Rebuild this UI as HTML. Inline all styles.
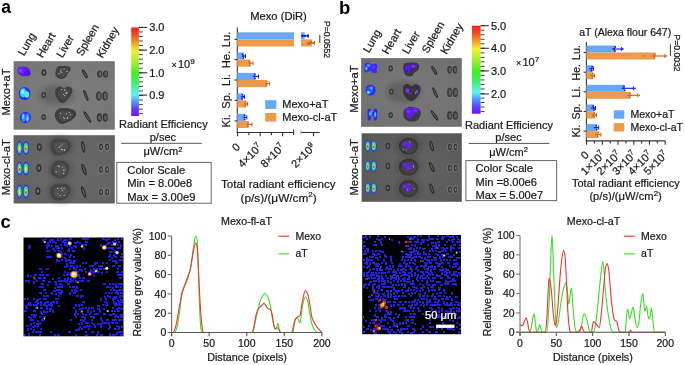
<!DOCTYPE html>
<html><head><meta charset="utf-8"><style>
html,body{margin:0;padding:0;background:#fff;}
svg{display:block;font-family:"Liberation Sans", sans-serif;filter:blur(0.35px);}
</style></head><body>
<svg width="685" height="365" viewBox="0 0 685 365">
<rect width="685" height="365" fill="#fff"/>
<text x="1.20" y="12.60" font-size="17.5" font-weight="bold" fill="#000">a</text>
<text x="339.00" y="13.80" font-size="18.5" font-weight="bold" fill="#000">b</text>
<text x="0.50" y="227.80" font-size="18.5" font-weight="bold" fill="#000">c</text>
<defs><filter id="blur2" x="-50%" y="-50%" width="200%" height="200%"><feGaussianBlur stdDeviation="2.5"/></filter><filter id="blur1" x="-50%" y="-50%" width="200%" height="200%"><feGaussianBlur stdDeviation="0.6"/></filter></defs>
<defs><radialGradient id="g4" cx="0.5" cy="0.5" r="0.75"><stop offset="0" stop-color="#7e7e7e"/><stop offset="1" stop-color="#747474"/></radialGradient></defs>
<rect x="13.60" y="61.20" width="101.20" height="68.50" fill="url(#g4)"/>
<ellipse cx="57.00" cy="95.00" rx="18.00" ry="10.00" fill="#303030" opacity="0.3" filter="url(#blur2)"/>
<ellipse cx="24.00" cy="71.50" rx="6.20" ry="4.80" fill="#5a18f4"/>
<ellipse cx="21.00" cy="70.00" rx="3.60" ry="3.40" fill="#6a28ff"/>
<ellipse cx="27.50" cy="73.20" rx="3.00" ry="2.80" fill="#4a10e8"/>
<ellipse cx="20.50" cy="70.50" rx="1.20" ry="1.00" fill="#8a70ff"/>
<ellipse cx="43.90" cy="72.60" rx="2.42" ry="3.30" fill="#303030"/>
<ellipse cx="43.90" cy="72.60" rx="1.21" ry="1.82" fill="#6e6e6e"/>
<path d="M56.00,70.00 C56.42,68.58 56.83,67.17 58.00,66.50 C59.17,65.83 61.67,66.12 63.00,66.00 C64.33,65.88 64.83,65.63 66.00,65.80 C67.17,65.97 69.25,66.30 70.00,67.00 C70.75,67.70 70.83,69.00 70.50,70.00 C70.17,71.00 68.75,71.83 68.00,73.00 C67.25,74.17 67.00,76.00 66.00,77.00 C65.00,78.00 63.33,78.83 62.00,79.00 C60.67,79.17 59.08,78.67 58.00,78.00 C56.92,77.33 55.83,76.33 55.50,75.00 C55.17,73.67 55.58,71.42 56.00,70.00 Z" fill="#3e3e3e"/>
<path d="M58.70,70.95 C58.99,70.03 59.28,69.11 60.10,68.68 C60.92,68.24 62.67,68.43 63.60,68.35 C64.53,68.27 64.88,68.11 65.70,68.22 C66.52,68.33 67.97,68.55 68.50,69.00 C69.03,69.46 69.08,70.30 68.85,70.95 C68.62,71.60 67.62,72.14 67.10,72.90 C66.57,73.66 66.40,74.85 65.70,75.50 C65.00,76.15 63.83,76.69 62.90,76.80 C61.97,76.91 60.86,76.58 60.10,76.15 C59.34,75.72 58.58,75.07 58.35,74.20 C58.12,73.33 58.41,71.87 58.70,70.95 Z" fill="#4a4a4a"/>
<ellipse cx="60.84" cy="71.84" rx="0.55" ry="0.55" fill="#cfcfcf"/>
<ellipse cx="61.93" cy="72.19" rx="0.55" ry="0.55" fill="#cfcfcf"/>
<ellipse cx="64.04" cy="68.99" rx="0.55" ry="0.55" fill="#cfcfcf"/>
<ellipse cx="58.98" cy="73.58" rx="0.55" ry="0.55" fill="#cfcfcf"/>
<ellipse cx="61.01" cy="69.99" rx="0.55" ry="0.55" fill="#cfcfcf"/>
<ellipse cx="67.09" cy="71.40" rx="0.55" ry="0.55" fill="#cfcfcf"/>
<ellipse cx="84.90" cy="73.90" rx="1.60" ry="5.00" fill="#2a2a2a" transform="rotate(-29 84.90 73.90)"/>
<ellipse cx="84.90" cy="73.90" rx="0.56" ry="3.50" fill="#626262" transform="rotate(-29 84.90 73.90)"/>
<ellipse cx="99.70" cy="74.00" rx="2.60" ry="3.60" fill="#353535"/>
<ellipse cx="100.00" cy="74.00" rx="1.43" ry="2.45" fill="#5e5e5e"/>
<ellipse cx="105.50" cy="74.00" rx="2.60" ry="3.60" fill="#353535"/>
<ellipse cx="105.80" cy="74.00" rx="1.43" ry="2.45" fill="#5e5e5e"/>
<ellipse cx="24.60" cy="93.50" rx="5.80" ry="6.60" fill="#2a2cff"/>
<ellipse cx="23.20" cy="92.80" rx="3.20" ry="4.60" fill="#30d0ff"/>
<ellipse cx="27.00" cy="94.50" rx="2.20" ry="3.20" fill="#50f0d0"/>
<ellipse cx="22.80" cy="91.80" rx="1.60" ry="2.40" fill="#80f8c0"/>
<ellipse cx="43.70" cy="95.10" rx="2.30" ry="2.86" fill="#303030"/>
<ellipse cx="43.70" cy="95.10" rx="1.15" ry="1.57" fill="#6e6e6e"/>
<path d="M55.50,90.00 C55.92,88.67 56.92,87.42 58.00,87.00 C59.08,86.58 61.00,87.17 62.00,87.50 C63.00,87.83 63.17,89.08 64.00,89.00 C64.83,88.92 65.83,87.25 67.00,87.00 C68.17,86.75 70.10,86.83 71.00,87.50 C71.90,88.17 72.57,89.58 72.40,91.00 C72.23,92.42 71.07,94.33 70.00,96.00 C68.93,97.67 67.33,99.83 66.00,101.00 C64.67,102.17 63.33,103.17 62.00,103.00 C60.67,102.83 59.08,101.33 58.00,100.00 C56.92,98.67 55.92,96.67 55.50,95.00 C55.08,93.33 55.08,91.33 55.50,90.00 Z" fill="#3e3e3e"/>
<path d="M58.48,91.39 C58.78,90.53 59.48,89.71 60.23,89.44 C60.99,89.17 62.34,89.55 63.04,89.77 C63.74,89.98 63.85,90.80 64.44,90.74 C65.02,90.69 65.72,89.60 66.53,89.44 C67.35,89.28 68.70,89.33 69.33,89.77 C69.96,90.20 70.43,91.12 70.31,92.04 C70.20,92.96 69.38,94.21 68.63,95.29 C67.89,96.38 66.77,97.78 65.83,98.54 C64.90,99.30 63.97,99.95 63.04,99.84 C62.10,99.73 60.99,98.76 60.23,97.89 C59.48,97.03 58.78,95.72 58.48,94.64 C58.19,93.56 58.19,92.26 58.48,91.39 Z" fill="#4a4a4a"/>
<ellipse cx="66.58" cy="92.66" rx="0.55" ry="0.55" fill="#cfcfcf"/>
<ellipse cx="64.74" cy="90.32" rx="0.55" ry="0.55" fill="#cfcfcf"/>
<ellipse cx="64.70" cy="95.48" rx="0.55" ry="0.55" fill="#cfcfcf"/>
<ellipse cx="63.67" cy="94.57" rx="0.55" ry="0.55" fill="#cfcfcf"/>
<ellipse cx="65.04" cy="89.69" rx="0.55" ry="0.55" fill="#cfcfcf"/>
<ellipse cx="65.85" cy="93.49" rx="0.55" ry="0.55" fill="#cfcfcf"/>
<ellipse cx="61.60" cy="89.46" rx="0.55" ry="0.55" fill="#cfcfcf"/>
<ellipse cx="66.85" cy="92.64" rx="0.55" ry="0.55" fill="#cfcfcf"/>
<ellipse cx="85.90" cy="95.50" rx="1.60" ry="5.80" fill="#2a2a2a" transform="rotate(-22 85.90 95.50)"/>
<ellipse cx="85.90" cy="95.50" rx="0.56" ry="4.06" fill="#626262" transform="rotate(-22 85.90 95.50)"/>
<ellipse cx="98.80" cy="96.00" rx="2.80" ry="4.60" fill="#353535"/>
<ellipse cx="99.10" cy="96.00" rx="1.54" ry="3.13" fill="#5e5e5e"/>
<ellipse cx="105.00" cy="96.00" rx="2.80" ry="4.60" fill="#353535"/>
<ellipse cx="105.30" cy="96.00" rx="1.54" ry="3.13" fill="#5e5e5e"/>
<ellipse cx="25.40" cy="117.50" rx="5.60" ry="5.80" fill="#2a2cff"/>
<ellipse cx="23.40" cy="117.50" rx="1.90" ry="4.30" fill="#3a90ff"/>
<ellipse cx="27.40" cy="117.80" rx="1.90" ry="4.30" fill="#3a90ff"/>
<ellipse cx="23.20" cy="116.50" rx="0.90" ry="2.60" fill="#60e0ff"/>
<ellipse cx="27.60" cy="118.50" rx="0.90" ry="2.20" fill="#60e0ff"/>
<ellipse cx="43.70" cy="117.10" rx="2.30" ry="2.86" fill="#303030"/>
<ellipse cx="43.70" cy="117.10" rx="1.15" ry="1.57" fill="#6e6e6e"/>
<path d="M55.50,112.00 C56.17,110.58 57.42,109.17 59.00,108.50 C60.58,107.83 63.00,107.92 65.00,108.00 C67.00,108.08 69.33,108.50 71.00,109.00 C72.67,109.50 74.17,110.00 75.00,111.00 C75.83,112.00 76.33,113.67 76.00,115.00 C75.67,116.33 74.50,117.75 73.00,119.00 C71.50,120.25 69.00,121.67 67.00,122.50 C65.00,123.33 62.67,124.25 61.00,124.00 C59.33,123.75 58.00,122.17 57.00,121.00 C56.00,119.83 55.25,118.50 55.00,117.00 C54.75,115.50 54.83,113.42 55.50,112.00 Z" fill="#3e3e3e"/>
<path d="M58.94,113.51 C59.40,112.59 60.28,111.67 61.39,111.24 C62.49,110.81 64.19,110.86 65.59,110.91 C66.99,110.97 68.62,111.24 69.79,111.56 C70.95,111.89 72.00,112.21 72.59,112.86 C73.17,113.51 73.52,114.60 73.29,115.46 C73.05,116.33 72.24,117.25 71.19,118.06 C70.14,118.88 68.39,119.80 66.99,120.34 C65.59,120.88 63.95,121.48 62.79,121.31 C61.62,121.15 60.69,120.12 59.99,119.36 C59.29,118.61 58.76,117.74 58.59,116.76 C58.41,115.79 58.47,114.43 58.94,113.51 Z" fill="#4a4a4a"/>
<ellipse cx="67.48" cy="117.91" rx="0.55" ry="0.55" fill="#cfcfcf"/>
<ellipse cx="67.43" cy="118.21" rx="0.55" ry="0.55" fill="#cfcfcf"/>
<ellipse cx="63.74" cy="117.35" rx="0.55" ry="0.55" fill="#cfcfcf"/>
<ellipse cx="64.31" cy="118.32" rx="0.55" ry="0.55" fill="#cfcfcf"/>
<ellipse cx="69.33" cy="112.28" rx="0.55" ry="0.55" fill="#cfcfcf"/>
<ellipse cx="60.75" cy="113.14" rx="0.55" ry="0.55" fill="#cfcfcf"/>
<ellipse cx="70.33" cy="114.72" rx="0.55" ry="0.55" fill="#cfcfcf"/>
<ellipse cx="66.42" cy="113.75" rx="0.55" ry="0.55" fill="#cfcfcf"/>
<ellipse cx="87.40" cy="117.00" rx="1.60" ry="6.80" fill="#2a2a2a" transform="rotate(-32 87.40 117.00)"/>
<ellipse cx="87.40" cy="117.00" rx="0.56" ry="4.76" fill="#626262" transform="rotate(-32 87.40 117.00)"/>
<ellipse cx="99.40" cy="117.50" rx="2.60" ry="4.20" fill="#353535"/>
<ellipse cx="99.70" cy="117.50" rx="1.43" ry="2.86" fill="#5e5e5e"/>
<ellipse cx="105.20" cy="117.50" rx="2.60" ry="4.20" fill="#353535"/>
<ellipse cx="105.50" cy="117.50" rx="1.43" ry="2.86" fill="#5e5e5e"/>
<defs><radialGradient id="g72" cx="0.5" cy="0.5" r="0.75"><stop offset="0" stop-color="#6a6a6a"/><stop offset="1" stop-color="#606060"/></radialGradient></defs>
<rect x="13.60" y="135.20" width="101.20" height="68.30" fill="url(#g72)"/>
<ellipse cx="19.50" cy="148.00" rx="2.80" ry="6.70" fill="#3a1cff"/>
<ellipse cx="19.50" cy="148.00" rx="2.24" ry="5.76" fill="#2090ff"/>
<ellipse cx="19.50" cy="148.00" rx="1.82" ry="4.82" fill="#30d8d0"/>
<ellipse cx="19.50" cy="148.00" rx="1.40" ry="3.89" fill="#50e040"/>
<ellipse cx="19.50" cy="148.50" rx="0.98" ry="2.68" fill="#d8e830"/>
<ellipse cx="25.90" cy="148.00" rx="3.10" ry="6.70" fill="#3a1cff"/>
<ellipse cx="25.90" cy="148.00" rx="2.48" ry="5.76" fill="#2090ff"/>
<ellipse cx="25.90" cy="148.00" rx="2.02" ry="4.82" fill="#30d8d0"/>
<ellipse cx="25.90" cy="148.00" rx="1.55" ry="3.89" fill="#50e040"/>
<ellipse cx="25.90" cy="148.50" rx="1.08" ry="2.68" fill="#d8e830"/>
<ellipse cx="25.90" cy="149.00" rx="0.78" ry="1.47" fill="#f02818"/>
<ellipse cx="39.40" cy="147.00" rx="2.53" ry="3.85" fill="#303030"/>
<ellipse cx="39.40" cy="147.00" rx="1.26" ry="2.12" fill="#6e6e6e"/>
<ellipse cx="60.40" cy="146.80" rx="13.00" ry="11.00" fill="#303030" opacity="0.3" filter="url(#blur2)"/>
<path d="M50.90,142.80 C51.40,140.88 52.82,139.97 54.40,139.30 C55.98,138.63 58.40,138.80 60.40,138.80 C62.40,138.80 64.77,138.63 66.40,139.30 C68.03,139.97 69.62,141.22 70.20,142.80 C70.78,144.38 70.53,147.13 69.90,148.80 C69.27,150.47 67.82,151.77 66.40,152.80 C64.98,153.83 63.23,154.67 61.40,155.00 C59.57,155.33 57.07,155.50 55.40,154.80 C53.73,154.10 52.15,152.80 51.40,150.80 C50.65,148.80 50.40,144.72 50.90,142.80 Z" fill="#444444"/>
<path d="M54.43,144.50 C54.78,143.26 55.78,142.66 56.88,142.23 C57.99,141.79 59.68,141.90 61.08,141.90 C62.48,141.90 64.14,141.79 65.28,142.23 C66.43,142.66 67.54,143.47 67.94,144.50 C68.35,145.53 68.18,147.32 67.73,148.40 C67.29,149.49 66.28,150.33 65.28,151.00 C64.29,151.67 63.07,152.22 61.78,152.43 C60.50,152.65 58.75,152.76 57.58,152.30 C56.42,151.85 55.31,151.00 54.78,149.70 C54.26,148.40 54.08,145.75 54.43,144.50 Z" fill="#505050"/>
<ellipse cx="60.76" cy="145.69" rx="0.55" ry="0.55" fill="#cfcfcf"/>
<ellipse cx="59.10" cy="147.14" rx="0.55" ry="0.55" fill="#cfcfcf"/>
<ellipse cx="61.57" cy="149.47" rx="0.55" ry="0.55" fill="#cfcfcf"/>
<ellipse cx="62.61" cy="149.65" rx="0.55" ry="0.55" fill="#cfcfcf"/>
<ellipse cx="64.46" cy="150.10" rx="0.55" ry="0.55" fill="#cfcfcf"/>
<ellipse cx="62.50" cy="144.06" rx="0.55" ry="0.55" fill="#cfcfcf"/>
<ellipse cx="64.51" cy="149.91" rx="0.55" ry="0.55" fill="#cfcfcf"/>
<ellipse cx="83.20" cy="146.80" rx="1.90" ry="6.00" fill="#2a2a2a" transform="rotate(-10 83.20 146.80)"/>
<ellipse cx="83.20" cy="146.80" rx="0.66" ry="4.20" fill="#626262" transform="rotate(-10 83.20 146.80)"/>
<ellipse cx="100.90" cy="146.80" rx="2.70" ry="4.20" fill="#8a8a8a"/>
<ellipse cx="100.90" cy="146.80" rx="2.11" ry="3.57" fill="#363636"/>
<ellipse cx="101.10" cy="146.80" rx="0.81" ry="1.89" fill="#7a7a7a"/>
<ellipse cx="107.10" cy="146.80" rx="2.70" ry="4.20" fill="#8a8a8a"/>
<ellipse cx="107.10" cy="146.80" rx="2.11" ry="3.57" fill="#363636"/>
<ellipse cx="107.30" cy="146.80" rx="0.81" ry="1.89" fill="#7a7a7a"/>
<ellipse cx="19.50" cy="168.50" rx="2.80" ry="6.70" fill="#3a1cff"/>
<ellipse cx="19.50" cy="168.50" rx="2.24" ry="5.76" fill="#2090ff"/>
<ellipse cx="19.50" cy="168.50" rx="1.82" ry="4.82" fill="#30d8d0"/>
<ellipse cx="19.50" cy="168.50" rx="1.40" ry="3.89" fill="#50e040"/>
<ellipse cx="19.50" cy="169.00" rx="0.98" ry="2.68" fill="#d8e830"/>
<ellipse cx="19.50" cy="169.50" rx="0.70" ry="1.47" fill="#f02818"/>
<ellipse cx="25.90" cy="168.50" rx="3.10" ry="6.70" fill="#3a1cff"/>
<ellipse cx="25.90" cy="168.50" rx="2.48" ry="5.76" fill="#2090ff"/>
<ellipse cx="25.90" cy="168.50" rx="2.02" ry="4.82" fill="#30d8d0"/>
<ellipse cx="25.90" cy="168.50" rx="1.55" ry="3.89" fill="#50e040"/>
<ellipse cx="25.90" cy="169.00" rx="1.08" ry="2.68" fill="#d8e830"/>
<ellipse cx="38.90" cy="168.10" rx="2.53" ry="3.85" fill="#303030"/>
<ellipse cx="38.90" cy="168.10" rx="1.26" ry="2.12" fill="#6e6e6e"/>
<ellipse cx="60.40" cy="169.50" rx="13.00" ry="11.00" fill="#303030" opacity="0.3" filter="url(#blur2)"/>
<path d="M51.40,166.50 C52.15,164.67 53.73,162.50 55.40,161.50 C57.07,160.50 59.57,160.33 61.40,160.50 C63.23,160.67 65.15,161.50 66.40,162.50 C67.65,163.50 68.57,164.83 68.90,166.50 C69.23,168.17 68.98,170.75 68.40,172.50 C67.82,174.25 66.90,176.00 65.40,177.00 C63.90,178.00 61.23,178.58 59.40,178.50 C57.57,178.42 55.82,177.50 54.40,176.50 C52.98,175.50 51.40,174.17 50.90,172.50 C50.40,170.83 50.65,168.33 51.40,166.50 Z" fill="#444444"/>
<path d="M54.64,167.93 C55.16,166.74 56.27,165.33 57.44,164.68 C58.61,164.03 60.36,163.92 61.64,164.03 C62.92,164.14 64.27,164.68 65.14,165.33 C66.02,165.98 66.66,166.85 66.89,167.93 C67.12,169.02 66.95,170.70 66.54,171.83 C66.13,172.97 65.49,174.11 64.44,174.76 C63.39,175.41 61.52,175.79 60.24,175.73 C58.96,175.68 57.73,175.08 56.74,174.43 C55.75,173.78 54.64,172.92 54.29,171.83 C53.94,170.75 54.12,169.12 54.64,167.93 Z" fill="#505050"/>
<ellipse cx="64.21" cy="170.01" rx="0.55" ry="0.55" fill="#cfcfcf"/>
<ellipse cx="62.32" cy="167.11" rx="0.55" ry="0.55" fill="#cfcfcf"/>
<ellipse cx="63.48" cy="170.05" rx="0.55" ry="0.55" fill="#cfcfcf"/>
<ellipse cx="58.07" cy="165.91" rx="0.55" ry="0.55" fill="#cfcfcf"/>
<ellipse cx="63.70" cy="173.42" rx="0.55" ry="0.55" fill="#cfcfcf"/>
<ellipse cx="56.13" cy="171.88" rx="0.55" ry="0.55" fill="#cfcfcf"/>
<ellipse cx="59.31" cy="166.62" rx="0.55" ry="0.55" fill="#cfcfcf"/>
<ellipse cx="84.00" cy="169.50" rx="1.90" ry="6.00" fill="#2a2a2a" transform="rotate(-20 84.00 169.50)"/>
<ellipse cx="84.00" cy="169.50" rx="0.66" ry="4.20" fill="#626262" transform="rotate(-20 84.00 169.50)"/>
<ellipse cx="100.90" cy="169.50" rx="2.70" ry="4.20" fill="#8a8a8a"/>
<ellipse cx="100.90" cy="169.50" rx="2.11" ry="3.57" fill="#363636"/>
<ellipse cx="101.10" cy="169.50" rx="0.81" ry="1.89" fill="#7a7a7a"/>
<ellipse cx="107.10" cy="169.50" rx="2.70" ry="4.20" fill="#8a8a8a"/>
<ellipse cx="107.10" cy="169.50" rx="2.11" ry="3.57" fill="#363636"/>
<ellipse cx="107.30" cy="169.50" rx="0.81" ry="1.89" fill="#7a7a7a"/>
<ellipse cx="19.50" cy="191.50" rx="2.80" ry="6.70" fill="#3a1cff"/>
<ellipse cx="19.50" cy="191.50" rx="2.24" ry="5.76" fill="#2090ff"/>
<ellipse cx="19.50" cy="191.50" rx="1.82" ry="4.82" fill="#30d8d0"/>
<ellipse cx="19.50" cy="191.50" rx="1.40" ry="3.89" fill="#50e040"/>
<ellipse cx="19.50" cy="192.00" rx="0.98" ry="2.68" fill="#d8e830"/>
<ellipse cx="25.90" cy="191.50" rx="3.10" ry="6.70" fill="#3a1cff"/>
<ellipse cx="25.90" cy="191.50" rx="2.48" ry="5.76" fill="#2090ff"/>
<ellipse cx="25.90" cy="191.50" rx="2.02" ry="4.82" fill="#30d8d0"/>
<ellipse cx="25.90" cy="191.50" rx="1.55" ry="3.89" fill="#50e040"/>
<ellipse cx="25.90" cy="192.00" rx="1.08" ry="2.68" fill="#d8e830"/>
<ellipse cx="25.90" cy="192.50" rx="0.78" ry="1.47" fill="#f02818"/>
<ellipse cx="37.90" cy="191.10" rx="2.53" ry="3.85" fill="#303030"/>
<ellipse cx="37.90" cy="191.10" rx="1.26" ry="2.12" fill="#6e6e6e"/>
<ellipse cx="60.40" cy="192.00" rx="13.00" ry="11.00" fill="#303030" opacity="0.3" filter="url(#blur2)"/>
<path d="M50.90,187.00 C51.73,185.50 53.48,184.58 55.40,184.00 C57.32,183.42 60.23,183.33 62.40,183.50 C64.57,183.67 67.07,183.92 68.40,185.00 C69.73,186.08 70.40,188.17 70.40,190.00 C70.40,191.83 69.57,194.42 68.40,196.00 C67.23,197.58 65.23,198.75 63.40,199.50 C61.57,200.25 59.23,200.75 57.40,200.50 C55.57,200.25 53.57,199.25 52.40,198.00 C51.23,196.75 50.65,194.83 50.40,193.00 C50.15,191.17 50.07,188.50 50.90,187.00 Z" fill="#444444"/>
<path d="M54.22,189.03 C54.80,188.05 56.02,187.46 57.37,187.08 C58.71,186.70 60.75,186.64 62.27,186.75 C63.78,186.86 65.53,187.02 66.47,187.73 C67.40,188.43 67.86,189.79 67.86,190.98 C67.86,192.17 67.28,193.85 66.47,194.88 C65.65,195.91 64.25,196.66 62.97,197.15 C61.68,197.64 60.05,197.97 58.77,197.80 C57.48,197.64 56.08,196.99 55.27,196.18 C54.45,195.37 54.04,194.12 53.87,192.93 C53.69,191.74 53.63,190.00 54.22,189.03 Z" fill="#505050"/>
<ellipse cx="57.68" cy="193.71" rx="0.55" ry="0.55" fill="#cfcfcf"/>
<ellipse cx="64.05" cy="188.16" rx="0.55" ry="0.55" fill="#cfcfcf"/>
<ellipse cx="61.21" cy="188.17" rx="0.55" ry="0.55" fill="#cfcfcf"/>
<ellipse cx="62.35" cy="190.36" rx="0.55" ry="0.55" fill="#cfcfcf"/>
<ellipse cx="64.14" cy="195.33" rx="0.55" ry="0.55" fill="#cfcfcf"/>
<ellipse cx="60.01" cy="195.46" rx="0.55" ry="0.55" fill="#cfcfcf"/>
<ellipse cx="57.86" cy="188.41" rx="0.55" ry="0.55" fill="#cfcfcf"/>
<ellipse cx="83.60" cy="192.00" rx="1.90" ry="6.00" fill="#2a2a2a" transform="rotate(-20 83.60 192.00)"/>
<ellipse cx="83.60" cy="192.00" rx="0.66" ry="4.20" fill="#626262" transform="rotate(-20 83.60 192.00)"/>
<ellipse cx="100.90" cy="192.00" rx="2.70" ry="4.20" fill="#8a8a8a"/>
<ellipse cx="100.90" cy="192.00" rx="2.11" ry="3.57" fill="#363636"/>
<ellipse cx="101.10" cy="192.00" rx="0.81" ry="1.89" fill="#7a7a7a"/>
<ellipse cx="107.10" cy="192.00" rx="2.70" ry="4.20" fill="#8a8a8a"/>
<ellipse cx="107.10" cy="192.00" rx="2.11" ry="3.57" fill="#363636"/>
<ellipse cx="107.30" cy="192.00" rx="0.81" ry="1.89" fill="#7a7a7a"/>
<defs><radialGradient id="g167" cx="0.5" cy="0.5" r="0.75"><stop offset="0" stop-color="#7a7a7a"/><stop offset="1" stop-color="#6e6e6e"/></radialGradient></defs>
<rect x="361.10" y="58.10" width="100.70" height="68.70" fill="url(#g167)"/>
<ellipse cx="404.00" cy="92.00" rx="18.00" ry="11.00" fill="#303030" opacity="0.3" filter="url(#blur2)"/>
<path d="M364.50,63.50 C365.17,62.80 367.75,62.63 369.00,62.80 C370.25,62.97 370.92,64.38 372.00,64.50 C373.08,64.62 374.58,63.25 375.50,63.50 C376.42,63.75 377.33,64.92 377.50,66.00 C377.67,67.08 376.58,68.92 376.50,70.00 C376.42,71.08 377.58,72.03 377.00,72.50 C376.42,72.97 374.17,73.05 373.00,72.80 C371.83,72.55 371.17,71.05 370.00,71.00 C368.83,70.95 367.00,72.67 366.00,72.50 C365.00,72.33 364.17,70.92 364.00,70.00 C363.83,69.08 364.92,68.08 365.00,67.00 C365.08,65.92 363.83,64.20 364.50,63.50 Z" fill="#3a2aff"/>
<ellipse cx="368.50" cy="65.50" rx="2.00" ry="1.80" fill="#4a80ff"/>
<ellipse cx="366.40" cy="68.50" rx="1.20" ry="1.60" fill="#50e040"/>
<ellipse cx="373.50" cy="67.50" rx="1.80" ry="2.00" fill="#5a3aff"/>
<ellipse cx="390.70" cy="68.50" rx="2.18" ry="2.97" fill="#303030"/>
<ellipse cx="390.70" cy="68.50" rx="1.09" ry="1.63" fill="#6e6e6e"/>
<path d="M404.00,64.00 C405.08,62.75 408.00,62.70 410.00,62.50 C412.00,62.30 414.50,62.30 416.00,62.80 C417.50,63.30 418.67,64.30 419.00,65.50 C419.33,66.70 418.83,68.75 418.00,70.00 C417.17,71.25 415.00,72.00 414.00,73.00 C413.00,74.00 413.33,75.58 412.00,76.00 C410.67,76.42 407.42,76.50 406.00,75.50 C404.58,74.50 403.83,71.92 403.50,70.00 C403.17,68.08 402.92,65.25 404.00,64.00 Z" fill="#3a3a3a"/>
<path d="M405.50,66.00 C406.30,65.30 408.33,65.00 410.00,64.80 C411.67,64.60 414.33,64.52 415.50,64.80 C416.67,65.08 417.17,65.93 417.00,66.50 C416.83,67.07 415.50,67.87 414.50,68.20 C413.50,68.53 411.78,67.95 411.00,68.50 C410.22,69.05 410.33,70.67 409.80,71.50 C409.27,72.33 408.43,73.42 407.80,73.50 C407.17,73.58 406.43,72.75 406.00,72.00 C405.57,71.25 405.28,70.00 405.20,69.00 C405.12,68.00 404.70,66.70 405.50,66.00 Z" fill="#5a18f8"/>
<ellipse cx="413.50" cy="66.40" rx="1.80" ry="1.00" fill="#7a40ff"/>
<ellipse cx="407.20" cy="70.50" rx="0.80" ry="1.20" fill="#4010e0"/>
<ellipse cx="434.20" cy="70.40" rx="1.60" ry="5.00" fill="#2a2a2a" transform="rotate(-30 434.20 70.40)"/>
<ellipse cx="434.20" cy="70.40" rx="0.56" ry="3.50" fill="#626262" transform="rotate(-30 434.20 70.40)"/>
<ellipse cx="449.60" cy="69.80" rx="2.30" ry="3.70" fill="#353535"/>
<ellipse cx="449.90" cy="69.80" rx="1.26" ry="2.52" fill="#5e5e5e"/>
<ellipse cx="455.00" cy="69.80" rx="2.30" ry="3.70" fill="#353535"/>
<ellipse cx="455.30" cy="69.80" rx="1.26" ry="2.52" fill="#5e5e5e"/>
<ellipse cx="370.60" cy="90.10" rx="5.00" ry="5.40" fill="#2a28ff"/>
<ellipse cx="370.20" cy="90.00" rx="3.20" ry="3.80" fill="#2060ff"/>
<ellipse cx="368.40" cy="92.50" rx="1.50" ry="1.40" fill="#60e0ff"/>
<ellipse cx="371.50" cy="88.00" rx="1.40" ry="1.50" fill="#50b0ff"/>
<ellipse cx="391.30" cy="91.50" rx="2.18" ry="2.86" fill="#303030"/>
<ellipse cx="391.30" cy="91.50" rx="1.09" ry="1.57" fill="#6e6e6e"/>
<path d="M403.50,86.00 C404.25,84.33 406.67,83.92 408.00,84.00 C409.33,84.08 410.33,86.50 411.50,86.50 C412.67,86.50 413.67,84.08 415.00,84.00 C416.33,83.92 418.58,84.83 419.50,86.00 C420.42,87.17 420.92,89.17 420.50,91.00 C420.08,92.83 418.42,95.33 417.00,97.00 C415.58,98.67 413.67,100.67 412.00,101.00 C410.33,101.33 408.42,100.17 407.00,99.00 C405.58,97.83 404.08,96.17 403.50,94.00 C402.92,91.83 402.75,87.67 403.50,86.00 Z" fill="#353535"/>
<ellipse cx="407.50" cy="90.50" rx="2.00" ry="2.20" fill="#7030ff"/>
<ellipse cx="417.00" cy="91.50" rx="1.40" ry="1.80" fill="#8040ff"/>
<ellipse cx="409.50" cy="93.50" rx="1.00" ry="1.00" fill="#7020ff"/>
<ellipse cx="415.50" cy="93.00" rx="0.60" ry="0.60" fill="#e0e0e0"/>
<ellipse cx="435.10" cy="92.60" rx="1.60" ry="5.80" fill="#2a2a2a" transform="rotate(-25 435.10 92.60)"/>
<ellipse cx="435.10" cy="92.60" rx="0.56" ry="4.06" fill="#626262" transform="rotate(-25 435.10 92.60)"/>
<ellipse cx="449.70" cy="92.40" rx="2.50" ry="4.60" fill="#353535"/>
<ellipse cx="450.00" cy="92.40" rx="1.38" ry="3.13" fill="#5e5e5e"/>
<ellipse cx="455.30" cy="92.40" rx="2.50" ry="4.60" fill="#353535"/>
<ellipse cx="455.60" cy="92.40" rx="1.38" ry="3.13" fill="#5e5e5e"/>
<path d="M367.80,109.50 C368.30,108.50 369.97,108.58 370.50,109.00 C371.03,109.42 370.50,111.50 371.00,112.00 C371.50,112.50 373.00,112.50 373.50,112.00 C374.00,111.50 373.42,109.42 374.00,109.00 C374.58,108.58 376.47,108.50 377.00,109.50 C377.53,110.50 377.28,113.25 377.20,115.00 C377.12,116.75 377.03,119.12 376.50,120.00 C375.97,120.88 374.50,120.97 374.00,120.30 C373.50,119.63 374.00,116.72 373.50,116.00 C373.00,115.28 371.50,115.33 371.00,116.00 C370.50,116.67 371.00,119.33 370.50,120.00 C370.00,120.67 368.50,120.83 368.00,120.00 C367.50,119.17 367.53,116.75 367.50,115.00 C367.47,113.25 367.30,110.50 367.80,109.50 Z" fill="#2a28ff"/>
<ellipse cx="370.50" cy="113.50" rx="1.60" ry="2.20" fill="#40b0ff"/>
<ellipse cx="375.20" cy="114.50" rx="1.00" ry="2.50" fill="#50c8ff"/>
<ellipse cx="390.70" cy="115.10" rx="2.18" ry="2.86" fill="#303030"/>
<ellipse cx="390.70" cy="115.10" rx="1.09" ry="1.57" fill="#6e6e6e"/>
<path d="M404.00,110.00 C404.92,108.67 407.17,107.42 409.00,107.00 C410.83,106.58 413.17,107.00 415.00,107.50 C416.83,108.00 419.08,108.75 420.00,110.00 C420.92,111.25 421.00,113.25 420.50,115.00 C420.00,116.75 418.75,119.42 417.00,120.50 C415.25,121.58 412.00,121.75 410.00,121.50 C408.00,121.25 406.08,120.08 405.00,119.00 C403.92,117.92 403.67,116.50 403.50,115.00 C403.33,113.50 403.08,111.33 404.00,110.00 Z" fill="#3a3a3a"/>
<path d="M405.50,109.00 C406.17,107.97 408.42,107.97 410.00,107.80 C411.58,107.63 413.58,107.63 415.00,108.00 C416.42,108.37 418.00,109.25 418.50,110.00 C419.00,110.75 418.50,111.92 418.00,112.50 C417.50,113.08 416.42,112.92 415.50,113.50 C414.58,114.08 413.42,115.12 412.50,116.00 C411.58,116.88 410.92,118.55 410.00,118.80 C409.08,119.05 407.67,118.30 407.00,117.50 C406.33,116.70 406.25,115.42 406.00,114.00 C405.75,112.58 404.83,110.03 405.50,109.00 Z" fill="#6418f8"/>
<ellipse cx="408.50" cy="111.50" rx="2.20" ry="1.80" fill="#7a30ff"/>
<ellipse cx="415.50" cy="110.20" rx="1.80" ry="1.20" fill="#7a30ff"/>
<ellipse cx="413.00" cy="112.00" rx="0.90" ry="0.90" fill="#4a4a4a"/>
<ellipse cx="409.00" cy="115.00" rx="0.80" ry="0.80" fill="#505050"/>
<ellipse cx="434.50" cy="115.50" rx="1.60" ry="6.20" fill="#2a2a2a" transform="rotate(-35 434.50 115.50)"/>
<ellipse cx="434.50" cy="115.50" rx="0.56" ry="4.34" fill="#626262" transform="rotate(-35 434.50 115.50)"/>
<ellipse cx="449.70" cy="115.50" rx="2.50" ry="4.20" fill="#353535"/>
<ellipse cx="450.00" cy="115.50" rx="1.38" ry="2.86" fill="#5e5e5e"/>
<ellipse cx="455.30" cy="115.50" rx="2.50" ry="4.20" fill="#353535"/>
<ellipse cx="455.60" cy="115.50" rx="1.38" ry="2.86" fill="#5e5e5e"/>
<defs><radialGradient id="g220" cx="0.5" cy="0.5" r="0.75"><stop offset="0" stop-color="#636363"/><stop offset="1" stop-color="#575757"/></radialGradient></defs>
<rect x="361.60" y="133.30" width="100.20" height="68.50" fill="url(#g220)"/>
<ellipse cx="367.70" cy="146.00" rx="2.60" ry="5.60" fill="#3a1cff"/>
<ellipse cx="367.70" cy="146.00" rx="2.08" ry="4.82" fill="#2090ff"/>
<ellipse cx="367.70" cy="146.00" rx="1.69" ry="4.03" fill="#30d8d0"/>
<ellipse cx="367.70" cy="146.00" rx="1.30" ry="3.25" fill="#50e040"/>
<ellipse cx="367.70" cy="146.25" rx="0.91" ry="2.24" fill="#d8e830"/>
<ellipse cx="367.70" cy="146.50" rx="0.65" ry="1.23" fill="#f02818"/>
<ellipse cx="373.80" cy="146.00" rx="2.90" ry="5.60" fill="#3a1cff"/>
<ellipse cx="373.80" cy="146.00" rx="2.32" ry="4.82" fill="#2090ff"/>
<ellipse cx="373.80" cy="146.00" rx="1.89" ry="4.03" fill="#30d8d0"/>
<ellipse cx="373.80" cy="146.00" rx="1.45" ry="3.25" fill="#50e040"/>
<ellipse cx="373.80" cy="146.40" rx="1.01" ry="2.24" fill="#d8e830"/>
<ellipse cx="373.80" cy="146.80" rx="0.72" ry="1.23" fill="#f02818"/>
<ellipse cx="387.80" cy="146.00" rx="2.18" ry="3.30" fill="#303030"/>
<ellipse cx="387.80" cy="146.00" rx="1.09" ry="1.82" fill="#6e6e6e"/>
<ellipse cx="408.50" cy="146.00" rx="13.00" ry="11.00" fill="#303030" opacity="0.3" filter="url(#blur2)"/>
<ellipse cx="408.50" cy="146.00" rx="10.60" ry="9.40" fill="#5e5e5e"/>
<ellipse cx="408.50" cy="146.00" rx="9.80" ry="8.80" fill="#363636"/>
<ellipse cx="409.00" cy="146.50" rx="7.84" ry="6.60" fill="#424242"/>
<ellipse cx="409.67" cy="141.88" rx="0.55" ry="0.55" fill="#c8c8c8"/>
<ellipse cx="404.94" cy="145.19" rx="0.55" ry="0.55" fill="#c8c8c8"/>
<ellipse cx="409.80" cy="142.97" rx="0.55" ry="0.55" fill="#c8c8c8"/>
<ellipse cx="403.12" cy="149.24" rx="0.55" ry="0.55" fill="#c8c8c8"/>
<ellipse cx="406.31" cy="150.04" rx="0.55" ry="0.55" fill="#c8c8c8"/>
<ellipse cx="405.00" cy="144.00" rx="2.60" ry="2.40" fill="#6420ff"/>
<ellipse cx="409.50" cy="146.00" rx="2.00" ry="1.80" fill="#6420ff"/>
<ellipse cx="408.50" cy="142.50" rx="1.20" ry="1.00" fill="#6420ff"/>
<ellipse cx="407.00" cy="148.50" rx="1.40" ry="1.20" fill="#6420ff"/>
<ellipse cx="412.00" cy="144.00" rx="1.00" ry="1.00" fill="#6420ff"/>
<ellipse cx="431.70" cy="146.00" rx="1.80" ry="5.40" fill="#2a2a2a" transform="rotate(-15 431.70 146.00)"/>
<ellipse cx="431.70" cy="146.00" rx="0.63" ry="3.78" fill="#626262" transform="rotate(-15 431.70 146.00)"/>
<ellipse cx="449.90" cy="147.00" rx="2.60" ry="4.00" fill="#8a8a8a"/>
<ellipse cx="449.90" cy="147.00" rx="2.03" ry="3.40" fill="#363636"/>
<ellipse cx="450.10" cy="147.00" rx="0.78" ry="1.80" fill="#7a7a7a"/>
<ellipse cx="455.50" cy="147.00" rx="2.60" ry="4.00" fill="#8a8a8a"/>
<ellipse cx="455.50" cy="147.00" rx="2.03" ry="3.40" fill="#363636"/>
<ellipse cx="455.70" cy="147.00" rx="0.78" ry="1.80" fill="#7a7a7a"/>
<ellipse cx="367.70" cy="166.00" rx="2.60" ry="5.60" fill="#3a1cff"/>
<ellipse cx="367.70" cy="166.00" rx="2.08" ry="4.82" fill="#2090ff"/>
<ellipse cx="367.70" cy="166.00" rx="1.69" ry="4.03" fill="#30d8d0"/>
<ellipse cx="367.70" cy="166.00" rx="1.30" ry="3.25" fill="#50e040"/>
<ellipse cx="367.70" cy="166.25" rx="0.91" ry="2.24" fill="#d8e830"/>
<ellipse cx="367.70" cy="166.50" rx="0.65" ry="1.23" fill="#f02818"/>
<ellipse cx="373.80" cy="166.00" rx="2.90" ry="5.60" fill="#3a1cff"/>
<ellipse cx="373.80" cy="166.00" rx="2.32" ry="4.82" fill="#2090ff"/>
<ellipse cx="373.80" cy="166.00" rx="1.89" ry="4.03" fill="#30d8d0"/>
<ellipse cx="373.80" cy="166.00" rx="1.45" ry="3.25" fill="#50e040"/>
<ellipse cx="373.80" cy="166.40" rx="1.01" ry="2.24" fill="#d8e830"/>
<ellipse cx="373.80" cy="166.80" rx="0.72" ry="1.23" fill="#f02818"/>
<ellipse cx="387.80" cy="166.00" rx="2.18" ry="3.30" fill="#303030"/>
<ellipse cx="387.80" cy="166.00" rx="1.09" ry="1.82" fill="#6e6e6e"/>
<ellipse cx="408.50" cy="167.00" rx="13.00" ry="11.00" fill="#303030" opacity="0.3" filter="url(#blur2)"/>
<ellipse cx="408.50" cy="167.00" rx="10.60" ry="9.40" fill="#5e5e5e"/>
<ellipse cx="408.50" cy="167.00" rx="9.80" ry="8.80" fill="#363636"/>
<ellipse cx="409.00" cy="167.50" rx="7.84" ry="6.60" fill="#424242"/>
<ellipse cx="413.16" cy="165.92" rx="0.55" ry="0.55" fill="#c8c8c8"/>
<ellipse cx="408.03" cy="167.18" rx="0.55" ry="0.55" fill="#c8c8c8"/>
<ellipse cx="410.19" cy="167.84" rx="0.55" ry="0.55" fill="#c8c8c8"/>
<ellipse cx="409.20" cy="168.06" rx="0.55" ry="0.55" fill="#c8c8c8"/>
<ellipse cx="413.68" cy="167.06" rx="0.55" ry="0.55" fill="#c8c8c8"/>
<ellipse cx="405.00" cy="165.00" rx="2.60" ry="2.40" fill="#6420ff"/>
<ellipse cx="409.50" cy="167.00" rx="2.00" ry="1.80" fill="#6420ff"/>
<ellipse cx="408.50" cy="163.50" rx="1.20" ry="1.00" fill="#6420ff"/>
<ellipse cx="407.00" cy="169.50" rx="1.40" ry="1.20" fill="#6420ff"/>
<ellipse cx="412.00" cy="165.00" rx="1.00" ry="1.00" fill="#6420ff"/>
<ellipse cx="431.70" cy="167.00" rx="1.80" ry="5.40" fill="#2a2a2a" transform="rotate(-25 431.70 167.00)"/>
<ellipse cx="431.70" cy="167.00" rx="0.63" ry="3.78" fill="#626262" transform="rotate(-25 431.70 167.00)"/>
<ellipse cx="449.90" cy="168.00" rx="2.60" ry="4.00" fill="#8a8a8a"/>
<ellipse cx="449.90" cy="168.00" rx="2.03" ry="3.40" fill="#363636"/>
<ellipse cx="450.10" cy="168.00" rx="0.78" ry="1.80" fill="#7a7a7a"/>
<ellipse cx="455.50" cy="168.00" rx="2.60" ry="4.00" fill="#8a8a8a"/>
<ellipse cx="455.50" cy="168.00" rx="2.03" ry="3.40" fill="#363636"/>
<ellipse cx="455.70" cy="168.00" rx="0.78" ry="1.80" fill="#7a7a7a"/>
<ellipse cx="367.70" cy="188.00" rx="2.60" ry="5.60" fill="#3a1cff"/>
<ellipse cx="367.70" cy="188.00" rx="2.08" ry="4.82" fill="#2090ff"/>
<ellipse cx="367.70" cy="188.00" rx="1.69" ry="4.03" fill="#30d8d0"/>
<ellipse cx="367.70" cy="188.00" rx="1.30" ry="3.25" fill="#50e040"/>
<ellipse cx="367.70" cy="188.25" rx="0.91" ry="2.24" fill="#d8e830"/>
<ellipse cx="367.70" cy="188.50" rx="0.65" ry="1.23" fill="#f02818"/>
<ellipse cx="373.80" cy="188.00" rx="2.90" ry="5.60" fill="#3a1cff"/>
<ellipse cx="373.80" cy="188.00" rx="2.32" ry="4.82" fill="#2090ff"/>
<ellipse cx="373.80" cy="188.00" rx="1.89" ry="4.03" fill="#30d8d0"/>
<ellipse cx="373.80" cy="188.00" rx="1.45" ry="3.25" fill="#50e040"/>
<ellipse cx="373.80" cy="188.40" rx="1.01" ry="2.24" fill="#d8e830"/>
<ellipse cx="373.80" cy="188.80" rx="0.72" ry="1.23" fill="#f02818"/>
<ellipse cx="387.80" cy="188.00" rx="2.18" ry="3.30" fill="#303030"/>
<ellipse cx="387.80" cy="188.00" rx="1.09" ry="1.82" fill="#6e6e6e"/>
<ellipse cx="408.50" cy="188.60" rx="13.00" ry="11.00" fill="#303030" opacity="0.3" filter="url(#blur2)"/>
<ellipse cx="408.50" cy="188.60" rx="10.60" ry="9.40" fill="#5e5e5e"/>
<ellipse cx="408.50" cy="188.60" rx="9.80" ry="8.80" fill="#363636"/>
<ellipse cx="409.00" cy="189.10" rx="7.84" ry="6.60" fill="#424242"/>
<ellipse cx="407.69" cy="190.54" rx="0.55" ry="0.55" fill="#c8c8c8"/>
<ellipse cx="405.41" cy="186.85" rx="0.55" ry="0.55" fill="#c8c8c8"/>
<ellipse cx="414.12" cy="188.79" rx="0.55" ry="0.55" fill="#c8c8c8"/>
<ellipse cx="409.07" cy="184.30" rx="0.55" ry="0.55" fill="#c8c8c8"/>
<ellipse cx="407.50" cy="189.30" rx="0.55" ry="0.55" fill="#c8c8c8"/>
<ellipse cx="405.00" cy="186.60" rx="2.60" ry="2.40" fill="#6420ff"/>
<ellipse cx="409.50" cy="188.60" rx="2.00" ry="1.80" fill="#6420ff"/>
<ellipse cx="408.50" cy="185.10" rx="1.20" ry="1.00" fill="#6420ff"/>
<ellipse cx="407.00" cy="191.10" rx="1.40" ry="1.20" fill="#6420ff"/>
<ellipse cx="412.00" cy="186.60" rx="1.00" ry="1.00" fill="#6420ff"/>
<ellipse cx="431.70" cy="188.60" rx="1.80" ry="5.40" fill="#2a2a2a" transform="rotate(-20 431.70 188.60)"/>
<ellipse cx="431.70" cy="188.60" rx="0.63" ry="3.78" fill="#626262" transform="rotate(-20 431.70 188.60)"/>
<ellipse cx="449.90" cy="189.60" rx="2.60" ry="4.00" fill="#8a8a8a"/>
<ellipse cx="449.90" cy="189.60" rx="2.03" ry="3.40" fill="#363636"/>
<ellipse cx="450.10" cy="189.60" rx="0.78" ry="1.80" fill="#7a7a7a"/>
<ellipse cx="455.50" cy="189.60" rx="2.60" ry="4.00" fill="#8a8a8a"/>
<ellipse cx="455.50" cy="189.60" rx="2.03" ry="3.40" fill="#363636"/>
<ellipse cx="455.70" cy="189.60" rx="0.78" ry="1.80" fill="#7a7a7a"/>
<text x="23.90" y="56.60" font-size="11" fill="#1a1a1a" stroke="#1a1a1a" stroke-width="0.22" transform="rotate(-60 23.90 56.60)">Lung</text>
<text x="42.60" y="58.60" font-size="11" fill="#1a1a1a" stroke="#1a1a1a" stroke-width="0.22" transform="rotate(-60 42.60 58.60)">Heart</text>
<text x="62.50" y="58.40" font-size="11" fill="#1a1a1a" stroke="#1a1a1a" stroke-width="0.22" transform="rotate(-60 62.50 58.40)">Liver</text>
<text x="82.20" y="56.70" font-size="11" fill="#1a1a1a" stroke="#1a1a1a" stroke-width="0.22" transform="rotate(-60 82.20 56.70)">Spleen</text>
<text x="102.50" y="58.80" font-size="11" fill="#1a1a1a" stroke="#1a1a1a" stroke-width="0.22" transform="rotate(-60 102.50 58.80)">Kidney</text>
<text x="369.10" y="53.40" font-size="11" fill="#1a1a1a" stroke="#1a1a1a" stroke-width="0.22" transform="rotate(-60 369.10 53.40)">Lung</text>
<text x="388.10" y="55.00" font-size="11" fill="#1a1a1a" stroke="#1a1a1a" stroke-width="0.22" transform="rotate(-60 388.10 55.00)">Heart</text>
<text x="408.30" y="54.70" font-size="11" fill="#1a1a1a" stroke="#1a1a1a" stroke-width="0.22" transform="rotate(-60 408.30 54.70)">Liver</text>
<text x="427.70" y="53.90" font-size="11" fill="#1a1a1a" stroke="#1a1a1a" stroke-width="0.22" transform="rotate(-60 427.70 53.90)">Spleen</text>
<text x="446.60" y="55.10" font-size="11" fill="#1a1a1a" stroke="#1a1a1a" stroke-width="0.22" transform="rotate(-60 446.60 55.10)">Kidney</text>
<text x="9.90" y="92.00" font-size="11.2" text-anchor="middle" fill="#1a1a1a" stroke="#1a1a1a" stroke-width="0.22" transform="rotate(-90 9.90 92.00)">Mexo+aT</text>
<text x="9.90" y="167.20" font-size="11.2" text-anchor="middle" fill="#1a1a1a" stroke="#1a1a1a" stroke-width="0.22" transform="rotate(-90 9.90 167.20)">Mexo-cl-aT</text>
<text x="358.10" y="89.00" font-size="11.3" text-anchor="middle" fill="#1a1a1a" stroke="#1a1a1a" stroke-width="0.22" transform="rotate(-90 358.10 89.00)">Mexo+aT</text>
<text x="358.10" y="167.30" font-size="11.3" text-anchor="middle" fill="#1a1a1a" stroke="#1a1a1a" stroke-width="0.22" transform="rotate(-90 358.10 167.30)">Mexo-cl-aT</text>
<defs><linearGradient id="cb344" x1="0" y1="0" x2="0" y2="1"><stop offset="0" stop-color="#ff2020"/><stop offset="0.08" stop-color="#f04820"/><stop offset="0.17" stop-color="#f09a28"/><stop offset="0.26" stop-color="#f0f030"/><stop offset="0.40" stop-color="#a0f030"/><stop offset="0.52" stop-color="#40f020"/><stop offset="0.62" stop-color="#40f060"/><stop offset="0.70" stop-color="#50f0c0"/><stop offset="0.76" stop-color="#60f0f8"/><stop offset="0.83" stop-color="#50a0ff"/><stop offset="0.92" stop-color="#5a40ff"/><stop offset="1" stop-color="#7a10ff"/></linearGradient></defs>
<rect x="131.20" y="27.40" width="7.70" height="88.60" fill="url(#cb344)"/>
<line x1="138.90" y1="27.40" x2="142.90" y2="27.40" stroke="#444" stroke-width="1"/>
<line x1="138.90" y1="31.94" x2="142.90" y2="31.94" stroke="#444" stroke-width="1"/>
<line x1="138.90" y1="36.48" x2="142.90" y2="36.48" stroke="#444" stroke-width="1"/>
<line x1="138.90" y1="41.02" x2="142.90" y2="41.02" stroke="#444" stroke-width="1"/>
<line x1="138.90" y1="45.56" x2="142.90" y2="45.56" stroke="#444" stroke-width="1"/>
<line x1="138.90" y1="50.10" x2="142.90" y2="50.10" stroke="#444" stroke-width="1"/>
<line x1="138.90" y1="54.64" x2="142.90" y2="54.64" stroke="#444" stroke-width="1"/>
<line x1="138.90" y1="59.18" x2="142.90" y2="59.18" stroke="#444" stroke-width="1"/>
<line x1="138.90" y1="63.72" x2="142.90" y2="63.72" stroke="#444" stroke-width="1"/>
<line x1="138.90" y1="68.26" x2="142.90" y2="68.26" stroke="#444" stroke-width="1"/>
<line x1="138.90" y1="72.80" x2="142.90" y2="72.80" stroke="#444" stroke-width="1"/>
<line x1="138.90" y1="77.34" x2="142.90" y2="77.34" stroke="#444" stroke-width="1"/>
<line x1="138.90" y1="81.88" x2="142.90" y2="81.88" stroke="#444" stroke-width="1"/>
<line x1="138.90" y1="86.42" x2="142.90" y2="86.42" stroke="#444" stroke-width="1"/>
<line x1="138.90" y1="90.96" x2="142.90" y2="90.96" stroke="#444" stroke-width="1"/>
<line x1="138.90" y1="95.50" x2="142.90" y2="95.50" stroke="#444" stroke-width="1"/>
<line x1="138.90" y1="100.04" x2="142.90" y2="100.04" stroke="#444" stroke-width="1"/>
<line x1="138.90" y1="104.58" x2="142.90" y2="104.58" stroke="#444" stroke-width="1"/>
<line x1="138.90" y1="109.12" x2="142.90" y2="109.12" stroke="#444" stroke-width="1"/>
<line x1="138.90" y1="113.66" x2="142.90" y2="113.66" stroke="#444" stroke-width="1"/>
<line x1="138.90" y1="27.40" x2="147.20" y2="27.40" stroke="#333" stroke-width="1.1"/>
<text x="149.20" y="31.30" font-size="11" fill="#1a1a1a" stroke="#1a1a1a" stroke-width="0.22">3.0</text>
<line x1="138.90" y1="50.10" x2="147.20" y2="50.10" stroke="#333" stroke-width="1.1"/>
<text x="149.20" y="54.00" font-size="11" fill="#1a1a1a" stroke="#1a1a1a" stroke-width="0.22">2.0</text>
<line x1="138.90" y1="72.80" x2="147.20" y2="72.80" stroke="#333" stroke-width="1.1"/>
<text x="149.20" y="76.70" font-size="11" fill="#1a1a1a" stroke="#1a1a1a" stroke-width="0.22">1.0</text>
<line x1="138.90" y1="95.10" x2="147.20" y2="95.10" stroke="#333" stroke-width="1.1"/>
<text x="149.20" y="99.00" font-size="11" fill="#1a1a1a" stroke="#1a1a1a" stroke-width="0.22">0.9</text>
<text x="171.50" y="68.00" font-size="11" fill="#1a1a1a" stroke="#1a1a1a" stroke-width="0.22"><tspan font-size="9">×</tspan><tspan dx="1.2">10</tspan><tspan font-size="8" dy="-4">9</tspan></text>
<defs><linearGradient id="cb375" x1="0" y1="0" x2="0" y2="1"><stop offset="0" stop-color="#ff2020"/><stop offset="0.08" stop-color="#f04820"/><stop offset="0.17" stop-color="#f09a28"/><stop offset="0.26" stop-color="#f0f030"/><stop offset="0.40" stop-color="#a0f030"/><stop offset="0.52" stop-color="#40f020"/><stop offset="0.62" stop-color="#40f060"/><stop offset="0.70" stop-color="#50f0c0"/><stop offset="0.76" stop-color="#60f0f8"/><stop offset="0.83" stop-color="#50a0ff"/><stop offset="0.92" stop-color="#5a40ff"/><stop offset="1" stop-color="#7a10ff"/></linearGradient></defs>
<rect x="471.90" y="25.70" width="8.70" height="88.00" fill="url(#cb375)"/>
<line x1="480.60" y1="25.70" x2="484.60" y2="25.70" stroke="#444" stroke-width="1"/>
<line x1="480.60" y1="30.22" x2="484.60" y2="30.22" stroke="#444" stroke-width="1"/>
<line x1="480.60" y1="34.74" x2="484.60" y2="34.74" stroke="#444" stroke-width="1"/>
<line x1="480.60" y1="39.26" x2="484.60" y2="39.26" stroke="#444" stroke-width="1"/>
<line x1="480.60" y1="43.78" x2="484.60" y2="43.78" stroke="#444" stroke-width="1"/>
<line x1="480.60" y1="48.30" x2="484.60" y2="48.30" stroke="#444" stroke-width="1"/>
<line x1="480.60" y1="52.82" x2="484.60" y2="52.82" stroke="#444" stroke-width="1"/>
<line x1="480.60" y1="57.34" x2="484.60" y2="57.34" stroke="#444" stroke-width="1"/>
<line x1="480.60" y1="61.86" x2="484.60" y2="61.86" stroke="#444" stroke-width="1"/>
<line x1="480.60" y1="66.38" x2="484.60" y2="66.38" stroke="#444" stroke-width="1"/>
<line x1="480.60" y1="70.90" x2="484.60" y2="70.90" stroke="#444" stroke-width="1"/>
<line x1="480.60" y1="75.42" x2="484.60" y2="75.42" stroke="#444" stroke-width="1"/>
<line x1="480.60" y1="79.94" x2="484.60" y2="79.94" stroke="#444" stroke-width="1"/>
<line x1="480.60" y1="84.46" x2="484.60" y2="84.46" stroke="#444" stroke-width="1"/>
<line x1="480.60" y1="88.98" x2="484.60" y2="88.98" stroke="#444" stroke-width="1"/>
<line x1="480.60" y1="93.50" x2="484.60" y2="93.50" stroke="#444" stroke-width="1"/>
<line x1="480.60" y1="98.02" x2="484.60" y2="98.02" stroke="#444" stroke-width="1"/>
<line x1="480.60" y1="102.54" x2="484.60" y2="102.54" stroke="#444" stroke-width="1"/>
<line x1="480.60" y1="107.06" x2="484.60" y2="107.06" stroke="#444" stroke-width="1"/>
<line x1="480.60" y1="111.58" x2="484.60" y2="111.58" stroke="#444" stroke-width="1"/>
<line x1="480.60" y1="25.70" x2="488.90" y2="25.70" stroke="#333" stroke-width="1.1"/>
<text x="490.90" y="29.60" font-size="11" fill="#1a1a1a" stroke="#1a1a1a" stroke-width="0.22">5.0</text>
<line x1="480.60" y1="48.30" x2="488.90" y2="48.30" stroke="#333" stroke-width="1.1"/>
<text x="490.90" y="52.20" font-size="11" fill="#1a1a1a" stroke="#1a1a1a" stroke-width="0.22">4.0</text>
<line x1="480.60" y1="70.90" x2="488.90" y2="70.90" stroke="#333" stroke-width="1.1"/>
<text x="490.90" y="74.80" font-size="11" fill="#1a1a1a" stroke="#1a1a1a" stroke-width="0.22">3.0</text>
<line x1="480.60" y1="94.00" x2="488.90" y2="94.00" stroke="#333" stroke-width="1.1"/>
<text x="490.90" y="97.90" font-size="11" fill="#1a1a1a" stroke="#1a1a1a" stroke-width="0.22">2.0</text>
<text x="516.00" y="66.00" font-size="11" fill="#1a1a1a" stroke="#1a1a1a" stroke-width="0.22"><tspan font-size="9">×</tspan><tspan dx="1.2">10</tspan><tspan font-size="8" dy="-4">7</tspan></text>
<text x="163.40" y="128.30" font-size="11.1" text-anchor="middle" fill="#1a1a1a" stroke="#1a1a1a" stroke-width="0.22">Radiant Efficiency</text>
<text x="162.90" y="140.90" font-size="11.1" text-anchor="middle" fill="#1a1a1a" stroke="#1a1a1a" stroke-width="0.22">p/sec</text>
<line x1="121.10" y1="143.30" x2="201.70" y2="143.30" stroke="#555" stroke-width="1"/>
<text x="162.90" y="155.20" font-size="11.1" text-anchor="middle" fill="#1a1a1a" stroke="#1a1a1a" stroke-width="0.22">μW/cm<tspan font-size="7.5" dy="-3.5">2</tspan></text>
<rect x="116.80" y="162.40" width="94.40" height="40.80" fill="none" stroke="#666" stroke-width="1"/>
<text x="127.30" y="174.00" font-size="11.2" fill="#1a1a1a" stroke="#1a1a1a" stroke-width="0.22">Color Scale</text>
<text x="127.30" y="187.30" font-size="11.2" fill="#1a1a1a" stroke="#1a1a1a" stroke-width="0.22">Min = 8.00e8</text>
<text x="127.30" y="200.70" font-size="11.2" fill="#1a1a1a" stroke="#1a1a1a" stroke-width="0.22">Max = 3.00e9</text>
<text x="509.00" y="128.60" font-size="11" text-anchor="middle" fill="#1a1a1a" stroke="#1a1a1a" stroke-width="0.22">Radiant Efficiency</text>
<text x="508.50" y="141.20" font-size="11" text-anchor="middle" fill="#1a1a1a" stroke="#1a1a1a" stroke-width="0.22">p/sec</text>
<line x1="468.70" y1="143.40" x2="549.40" y2="143.40" stroke="#555" stroke-width="1"/>
<text x="508.50" y="155.50" font-size="11" text-anchor="middle" fill="#1a1a1a" stroke="#1a1a1a" stroke-width="0.22">μW/cm<tspan font-size="7.5" dy="-3.5">2</tspan></text>
<rect x="465.90" y="160.60" width="90.70" height="40.00" fill="none" stroke="#666" stroke-width="1"/>
<text x="475.60" y="172.20" font-size="11.1" fill="#1a1a1a" stroke="#1a1a1a" stroke-width="0.22">Color Scale</text>
<text x="475.60" y="185.50" font-size="11.1" fill="#1a1a1a" stroke="#1a1a1a" stroke-width="0.22">Min =8.00e6</text>
<text x="475.60" y="198.90" font-size="11.1" fill="#1a1a1a" stroke="#1a1a1a" stroke-width="0.22">Max = 5.00e7</text>
<line x1="237.30" y1="27.40" x2="237.30" y2="133.00" stroke="#333" stroke-width="1.1"/>
<line x1="234.50" y1="39.40" x2="237.30" y2="39.40" stroke="#333" stroke-width="1.1"/>
<line x1="234.50" y1="59.60" x2="237.30" y2="59.60" stroke="#333" stroke-width="1.1"/>
<line x1="234.50" y1="80.00" x2="237.30" y2="80.00" stroke="#333" stroke-width="1.1"/>
<line x1="234.50" y1="100.40" x2="237.30" y2="100.40" stroke="#333" stroke-width="1.1"/>
<line x1="234.50" y1="120.90" x2="237.30" y2="120.90" stroke="#333" stroke-width="1.1"/>
<rect x="237.30" y="32.30" width="56.70" height="7.10" fill="#69a8f6"/>
<rect x="301.00" y="32.30" width="3.70" height="7.10" fill="#69a8f6"/>
<rect x="237.30" y="39.40" width="56.70" height="7.10" fill="#ec9a4b"/>
<rect x="301.00" y="39.40" width="11.00" height="7.10" fill="#ec9a4b"/>
<line x1="301.00" y1="35.85" x2="309.00" y2="35.85" stroke="#1010ff" stroke-width="1.2"/>
<ellipse cx="302.50" cy="35.85" rx="1.10" ry="1.10" fill="#1010ff"/>
<ellipse cx="305.00" cy="35.85" rx="1.10" ry="1.10" fill="#1010ff"/>
<ellipse cx="308.00" cy="35.85" rx="1.10" ry="1.10" fill="#1010ff"/>
<line x1="308.00" y1="33.85" x2="308.00" y2="37.85" stroke="#1010ff" stroke-width="1"/>
<line x1="307.00" y1="42.95" x2="314.80" y2="42.95" stroke="#c0601c" stroke-width="1.2"/>
<ellipse cx="309.00" cy="43.95" rx="1.00" ry="1.00" fill="#c0601c"/>
<ellipse cx="311.00" cy="41.95" rx="1.00" ry="1.00" fill="#c0601c"/>
<ellipse cx="313.00" cy="42.95" rx="1.00" ry="1.00" fill="#c0601c"/>
<line x1="314.50" y1="40.95" x2="314.50" y2="44.95" stroke="#c0601c" stroke-width="1"/>
<rect x="237.30" y="52.50" width="6.50" height="7.10" fill="#69a8f6"/>
<rect x="237.30" y="59.60" width="13.10" height="7.10" fill="#ec9a4b"/>
<line x1="241.80" y1="56.05" x2="245.50" y2="56.05" stroke="#1010ff" stroke-width="1.1"/>
<line x1="245.50" y1="54.05" x2="245.50" y2="58.05" stroke="#1010ff" stroke-width="1"/>
<ellipse cx="242.63" cy="54.05" rx="0.90" ry="0.90" fill="#1010ff"/>
<ellipse cx="243.46" cy="56.05" rx="0.90" ry="0.90" fill="#1010ff"/>
<ellipse cx="243.49" cy="58.05" rx="0.90" ry="0.90" fill="#1010ff"/>
<line x1="248.40" y1="63.15" x2="253.00" y2="63.15" stroke="#c0601c" stroke-width="1.1"/>
<line x1="253.00" y1="61.15" x2="253.00" y2="65.15" stroke="#c0601c" stroke-width="1"/>
<ellipse cx="249.28" cy="61.15" rx="0.80" ry="0.80" fill="#c0601c"/>
<ellipse cx="250.08" cy="63.15" rx="0.80" ry="0.80" fill="#c0601c"/>
<ellipse cx="249.85" cy="65.15" rx="0.80" ry="0.80" fill="#c0601c"/>
<rect x="237.30" y="72.90" width="17.90" height="7.10" fill="#69a8f6"/>
<rect x="237.30" y="80.00" width="29.90" height="7.10" fill="#ec9a4b"/>
<line x1="253.20" y1="76.45" x2="258.50" y2="76.45" stroke="#1010ff" stroke-width="1.1"/>
<line x1="258.50" y1="74.45" x2="258.50" y2="78.45" stroke="#1010ff" stroke-width="1"/>
<ellipse cx="254.95" cy="74.45" rx="0.90" ry="0.90" fill="#1010ff"/>
<ellipse cx="254.49" cy="76.45" rx="0.90" ry="0.90" fill="#1010ff"/>
<ellipse cx="254.99" cy="78.45" rx="0.90" ry="0.90" fill="#1010ff"/>
<line x1="265.20" y1="83.55" x2="269.50" y2="83.55" stroke="#c0601c" stroke-width="1.1"/>
<line x1="269.50" y1="81.55" x2="269.50" y2="85.55" stroke="#c0601c" stroke-width="1"/>
<ellipse cx="267.03" cy="81.55" rx="0.80" ry="0.80" fill="#c0601c"/>
<ellipse cx="266.03" cy="83.55" rx="0.80" ry="0.80" fill="#c0601c"/>
<ellipse cx="266.08" cy="85.55" rx="0.80" ry="0.80" fill="#c0601c"/>
<rect x="237.30" y="93.30" width="5.60" height="7.10" fill="#69a8f6"/>
<rect x="237.30" y="100.40" width="8.90" height="7.10" fill="#ec9a4b"/>
<line x1="240.90" y1="96.85" x2="244.50" y2="96.85" stroke="#1010ff" stroke-width="1.1"/>
<line x1="244.50" y1="94.85" x2="244.50" y2="98.85" stroke="#1010ff" stroke-width="1"/>
<ellipse cx="242.65" cy="94.85" rx="0.90" ry="0.90" fill="#1010ff"/>
<ellipse cx="243.05" cy="96.85" rx="0.90" ry="0.90" fill="#1010ff"/>
<ellipse cx="242.05" cy="98.85" rx="0.90" ry="0.90" fill="#1010ff"/>
<line x1="244.20" y1="103.95" x2="247.50" y2="103.95" stroke="#c0601c" stroke-width="1.1"/>
<line x1="247.50" y1="101.95" x2="247.50" y2="105.95" stroke="#c0601c" stroke-width="1"/>
<ellipse cx="245.64" cy="101.95" rx="0.80" ry="0.80" fill="#c0601c"/>
<ellipse cx="245.83" cy="103.95" rx="0.80" ry="0.80" fill="#c0601c"/>
<ellipse cx="245.45" cy="105.95" rx="0.80" ry="0.80" fill="#c0601c"/>
<rect x="237.30" y="113.80" width="8.00" height="7.10" fill="#69a8f6"/>
<rect x="237.30" y="120.90" width="11.30" height="7.10" fill="#ec9a4b"/>
<line x1="243.30" y1="117.35" x2="246.80" y2="117.35" stroke="#1010ff" stroke-width="1.1"/>
<line x1="246.80" y1="115.35" x2="246.80" y2="119.35" stroke="#1010ff" stroke-width="1"/>
<ellipse cx="244.61" cy="115.35" rx="0.90" ry="0.90" fill="#1010ff"/>
<ellipse cx="244.54" cy="117.35" rx="0.90" ry="0.90" fill="#1010ff"/>
<ellipse cx="244.62" cy="119.35" rx="0.90" ry="0.90" fill="#1010ff"/>
<line x1="246.60" y1="124.45" x2="252.00" y2="124.45" stroke="#c0601c" stroke-width="1.1"/>
<line x1="252.00" y1="122.45" x2="252.00" y2="126.45" stroke="#c0601c" stroke-width="1"/>
<ellipse cx="248.23" cy="122.45" rx="0.80" ry="0.80" fill="#c0601c"/>
<ellipse cx="247.82" cy="124.45" rx="0.80" ry="0.80" fill="#c0601c"/>
<ellipse cx="247.93" cy="126.45" rx="0.80" ry="0.80" fill="#c0601c"/>
<line x1="236.80" y1="132.50" x2="293.80" y2="132.50" stroke="#333" stroke-width="1.1"/>
<line x1="300.80" y1="132.50" x2="319.80" y2="132.50" stroke="#333" stroke-width="1.1"/>
<line x1="237.60" y1="132.50" x2="237.60" y2="136.30" stroke="#333" stroke-width="1.1"/>
<line x1="248.90" y1="132.50" x2="248.90" y2="135.30" stroke="#333" stroke-width="1.1"/>
<line x1="260.20" y1="132.50" x2="260.20" y2="136.30" stroke="#333" stroke-width="1.1"/>
<line x1="271.40" y1="132.50" x2="271.40" y2="135.30" stroke="#333" stroke-width="1.1"/>
<line x1="282.60" y1="132.50" x2="282.60" y2="136.30" stroke="#333" stroke-width="1.1"/>
<line x1="313.50" y1="132.50" x2="313.50" y2="136.30" stroke="#333" stroke-width="1.1"/>
<line x1="293.60" y1="129.50" x2="293.60" y2="135.10" stroke="#333" stroke-width="1.1"/>
<line x1="300.80" y1="129.70" x2="300.80" y2="134.70" stroke="#bbb" stroke-width="1.1"/>
<text x="240.90" y="147.70" font-size="11" text-anchor="end" fill="#1a1a1a" stroke="#1a1a1a" stroke-width="0.22" transform="rotate(-45 240.90 147.70)">0</text>
<text x="262.90" y="147.90" font-size="11" text-anchor="end" fill="#1a1a1a" stroke="#1a1a1a" stroke-width="0.22" transform="rotate(-45 262.90 147.90)">4×10<tspan font-size="7.5" dy="-4">7</tspan></text>
<text x="285.40" y="147.90" font-size="11" text-anchor="end" fill="#1a1a1a" stroke="#1a1a1a" stroke-width="0.22" transform="rotate(-45 285.40 147.90)">8×10<tspan font-size="7.5" dy="-4">7</tspan></text>
<text x="316.20" y="147.90" font-size="11" text-anchor="end" fill="#1a1a1a" stroke="#1a1a1a" stroke-width="0.22" transform="rotate(-45 316.20 147.90)">2×10<tspan font-size="7.5" dy="-4">9</tspan></text>
<text x="229.60" y="39.40" font-size="11.2" text-anchor="middle" fill="#1a1a1a" stroke="#1a1a1a" stroke-width="0.22" transform="rotate(-90 229.60 39.40)">Lu.</text>
<text x="229.60" y="59.60" font-size="11.2" text-anchor="middle" fill="#1a1a1a" stroke="#1a1a1a" stroke-width="0.22" transform="rotate(-90 229.60 59.60)">He.</text>
<text x="229.60" y="80.00" font-size="11.2" text-anchor="middle" fill="#1a1a1a" stroke="#1a1a1a" stroke-width="0.22" transform="rotate(-90 229.60 80.00)">Li.</text>
<text x="229.60" y="100.40" font-size="11.2" text-anchor="middle" fill="#1a1a1a" stroke="#1a1a1a" stroke-width="0.22" transform="rotate(-90 229.60 100.40)">Sp.</text>
<text x="229.60" y="120.90" font-size="11.2" text-anchor="middle" fill="#1a1a1a" stroke="#1a1a1a" stroke-width="0.22" transform="rotate(-90 229.60 120.90)">Ki.</text>
<text x="278.50" y="20.10" font-size="11.2" text-anchor="middle" fill="#1a1a1a" stroke="#1a1a1a" stroke-width="0.22">Mexo (DiR)</text>
<line x1="319.80" y1="35.00" x2="319.80" y2="43.00" stroke="#333" stroke-width="1"/>
<text x="324.00" y="21.00" font-size="8.6" fill="#1a1a1a" stroke="#1a1a1a" stroke-width="0.22" transform="rotate(90 324.00 21.00)">P=0.0552</text>
<rect x="265.20" y="100.20" width="11.10" height="8.70" fill="#68a8fa"/>
<rect x="265.20" y="113.00" width="11.10" height="8.60" fill="#ee9a4a"/>
<text x="282.30" y="108.10" font-size="11" fill="#1a1a1a" stroke="#1a1a1a" stroke-width="0.22">Mexo+aT</text>
<text x="282.30" y="120.90" font-size="11" fill="#1a1a1a" stroke="#1a1a1a" stroke-width="0.22">Mexo-cl-aT</text>
<text x="278.30" y="188.40" font-size="11.6" text-anchor="middle" fill="#1a1a1a" stroke="#1a1a1a" stroke-width="0.22">Total radiant efficiency</text>
<text x="278.60" y="201.60" font-size="11.8" text-anchor="middle" fill="#1a1a1a" stroke="#1a1a1a" stroke-width="0.22">(p/s)/(μW/cm<tspan font-size="8" dy="-4.2">2</tspan><tspan dy="4.2">)</tspan></text>
<line x1="586.40" y1="41.90" x2="586.40" y2="141.40" stroke="#333" stroke-width="1.1"/>
<line x1="583.60" y1="52.50" x2="586.40" y2="52.50" stroke="#333" stroke-width="1.1"/>
<line x1="583.60" y1="72.20" x2="586.40" y2="72.20" stroke="#333" stroke-width="1.1"/>
<line x1="583.60" y1="91.80" x2="586.40" y2="91.80" stroke="#333" stroke-width="1.1"/>
<line x1="583.60" y1="111.50" x2="586.40" y2="111.50" stroke="#333" stroke-width="1.1"/>
<line x1="583.60" y1="131.10" x2="586.40" y2="131.10" stroke="#333" stroke-width="1.1"/>
<rect x="586.40" y="45.50" width="28.90" height="7.00" fill="#69a8f6"/>
<rect x="586.40" y="52.50" width="68.90" height="7.00" fill="#ec9a4b"/>
<line x1="612.30" y1="49.00" x2="621.30" y2="49.00" stroke="#1010ff" stroke-width="1.1"/>
<line x1="621.30" y1="47.00" x2="621.30" y2="51.00" stroke="#1010ff" stroke-width="1"/>
<ellipse cx="615.18" cy="47.00" rx="0.90" ry="0.90" fill="#1010ff"/>
<ellipse cx="614.14" cy="49.00" rx="0.90" ry="0.90" fill="#1010ff"/>
<ellipse cx="614.90" cy="51.00" rx="0.90" ry="0.90" fill="#1010ff"/>
<ellipse cx="622.80" cy="49.00" rx="0.90" ry="0.90" fill="#1010ff"/>
<line x1="652.30" y1="56.00" x2="664.80" y2="56.00" stroke="#c0601c" stroke-width="1.1"/>
<line x1="664.80" y1="54.00" x2="664.80" y2="58.00" stroke="#c0601c" stroke-width="1"/>
<ellipse cx="655.13" cy="54.00" rx="0.80" ry="0.80" fill="#c0601c"/>
<ellipse cx="654.53" cy="56.00" rx="0.80" ry="0.80" fill="#c0601c"/>
<ellipse cx="654.41" cy="58.00" rx="0.80" ry="0.80" fill="#c0601c"/>
<ellipse cx="666.30" cy="56.00" rx="0.90" ry="0.90" fill="#c0601c"/>
<rect x="586.40" y="65.20" width="6.00" height="7.00" fill="#69a8f6"/>
<rect x="586.40" y="72.20" width="6.90" height="7.00" fill="#ec9a4b"/>
<line x1="589.40" y1="68.70" x2="593.50" y2="68.70" stroke="#1010ff" stroke-width="1.1"/>
<line x1="593.50" y1="66.70" x2="593.50" y2="70.70" stroke="#1010ff" stroke-width="1"/>
<ellipse cx="592.33" cy="66.70" rx="0.90" ry="0.90" fill="#1010ff"/>
<ellipse cx="591.53" cy="68.70" rx="0.90" ry="0.90" fill="#1010ff"/>
<ellipse cx="591.46" cy="70.70" rx="0.90" ry="0.90" fill="#1010ff"/>
<line x1="590.30" y1="75.70" x2="594.50" y2="75.70" stroke="#c0601c" stroke-width="1.1"/>
<line x1="594.50" y1="73.70" x2="594.50" y2="77.70" stroke="#c0601c" stroke-width="1"/>
<ellipse cx="592.71" cy="73.70" rx="0.80" ry="0.80" fill="#c0601c"/>
<ellipse cx="593.08" cy="75.70" rx="0.80" ry="0.80" fill="#c0601c"/>
<ellipse cx="592.24" cy="77.70" rx="0.80" ry="0.80" fill="#c0601c"/>
<rect x="586.40" y="84.80" width="38.30" height="7.00" fill="#69a8f6"/>
<rect x="586.40" y="91.80" width="44.20" height="7.00" fill="#ec9a4b"/>
<line x1="621.70" y1="88.30" x2="633.40" y2="88.30" stroke="#1010ff" stroke-width="1.1"/>
<line x1="633.40" y1="86.30" x2="633.40" y2="90.30" stroke="#1010ff" stroke-width="1"/>
<ellipse cx="623.95" cy="86.30" rx="0.90" ry="0.90" fill="#1010ff"/>
<ellipse cx="623.97" cy="88.30" rx="0.90" ry="0.90" fill="#1010ff"/>
<ellipse cx="624.67" cy="90.30" rx="0.90" ry="0.90" fill="#1010ff"/>
<ellipse cx="634.90" cy="88.30" rx="0.90" ry="0.90" fill="#1010ff"/>
<line x1="627.60" y1="95.30" x2="637.80" y2="95.30" stroke="#c0601c" stroke-width="1.1"/>
<line x1="637.80" y1="93.30" x2="637.80" y2="97.30" stroke="#c0601c" stroke-width="1"/>
<ellipse cx="630.01" cy="93.30" rx="0.80" ry="0.80" fill="#c0601c"/>
<ellipse cx="630.60" cy="95.30" rx="0.80" ry="0.80" fill="#c0601c"/>
<ellipse cx="629.64" cy="97.30" rx="0.80" ry="0.80" fill="#c0601c"/>
<ellipse cx="639.30" cy="95.30" rx="0.90" ry="0.90" fill="#c0601c"/>
<rect x="586.40" y="104.50" width="7.60" height="7.00" fill="#69a8f6"/>
<rect x="586.40" y="111.50" width="8.60" height="7.00" fill="#ec9a4b"/>
<line x1="591.00" y1="108.00" x2="595.50" y2="108.00" stroke="#1010ff" stroke-width="1.1"/>
<line x1="595.50" y1="106.00" x2="595.50" y2="110.00" stroke="#1010ff" stroke-width="1"/>
<ellipse cx="593.27" cy="106.00" rx="0.90" ry="0.90" fill="#1010ff"/>
<ellipse cx="593.71" cy="108.00" rx="0.90" ry="0.90" fill="#1010ff"/>
<ellipse cx="594.04" cy="110.00" rx="0.90" ry="0.90" fill="#1010ff"/>
<line x1="592.00" y1="115.00" x2="596.50" y2="115.00" stroke="#c0601c" stroke-width="1.1"/>
<line x1="596.50" y1="113.00" x2="596.50" y2="117.00" stroke="#c0601c" stroke-width="1"/>
<ellipse cx="594.43" cy="113.00" rx="0.80" ry="0.80" fill="#c0601c"/>
<ellipse cx="594.12" cy="115.00" rx="0.80" ry="0.80" fill="#c0601c"/>
<ellipse cx="593.97" cy="117.00" rx="0.80" ry="0.80" fill="#c0601c"/>
<rect x="586.40" y="124.10" width="10.40" height="7.00" fill="#69a8f6"/>
<rect x="586.40" y="131.10" width="12.00" height="7.00" fill="#ec9a4b"/>
<line x1="593.80" y1="127.60" x2="598.70" y2="127.60" stroke="#1010ff" stroke-width="1.1"/>
<line x1="598.70" y1="125.60" x2="598.70" y2="129.60" stroke="#1010ff" stroke-width="1"/>
<ellipse cx="596.34" cy="125.60" rx="0.90" ry="0.90" fill="#1010ff"/>
<ellipse cx="595.87" cy="127.60" rx="0.90" ry="0.90" fill="#1010ff"/>
<ellipse cx="596.73" cy="129.60" rx="0.90" ry="0.90" fill="#1010ff"/>
<line x1="595.40" y1="134.60" x2="601.00" y2="134.60" stroke="#c0601c" stroke-width="1.1"/>
<line x1="601.00" y1="132.60" x2="601.00" y2="136.60" stroke="#c0601c" stroke-width="1"/>
<ellipse cx="598.37" cy="132.60" rx="0.80" ry="0.80" fill="#c0601c"/>
<ellipse cx="597.46" cy="134.60" rx="0.80" ry="0.80" fill="#c0601c"/>
<ellipse cx="597.59" cy="136.60" rx="0.80" ry="0.80" fill="#c0601c"/>
<ellipse cx="644.50" cy="56.00" rx="0.80" ry="0.80" fill="#c0601c"/>
<line x1="585.90" y1="140.90" x2="665.40" y2="140.90" stroke="#333" stroke-width="1.1"/>
<line x1="586.60" y1="140.90" x2="586.60" y2="144.70" stroke="#333" stroke-width="1.1"/>
<line x1="594.46" y1="140.90" x2="594.46" y2="143.50" stroke="#333" stroke-width="1.1"/>
<line x1="602.32" y1="140.90" x2="602.32" y2="144.70" stroke="#333" stroke-width="1.1"/>
<line x1="610.18" y1="140.90" x2="610.18" y2="143.50" stroke="#333" stroke-width="1.1"/>
<line x1="618.04" y1="140.90" x2="618.04" y2="144.70" stroke="#333" stroke-width="1.1"/>
<line x1="625.90" y1="140.90" x2="625.90" y2="143.50" stroke="#333" stroke-width="1.1"/>
<line x1="633.76" y1="140.90" x2="633.76" y2="144.70" stroke="#333" stroke-width="1.1"/>
<line x1="641.62" y1="140.90" x2="641.62" y2="143.50" stroke="#333" stroke-width="1.1"/>
<line x1="649.48" y1="140.90" x2="649.48" y2="144.70" stroke="#333" stroke-width="1.1"/>
<line x1="657.34" y1="140.90" x2="657.34" y2="143.50" stroke="#333" stroke-width="1.1"/>
<line x1="665.20" y1="140.90" x2="665.20" y2="144.70" stroke="#333" stroke-width="1.1"/>
<text x="589.60" y="155.60" font-size="11.0" text-anchor="end" fill="#1a1a1a" stroke="#1a1a1a" stroke-width="0.22" transform="rotate(-45 589.60 155.60)">0</text>
<text x="605.72" y="155.40" font-size="11.0" text-anchor="end" fill="#1a1a1a" stroke="#1a1a1a" stroke-width="0.22" transform="rotate(-45 605.72 155.40)">1×10<tspan font-size="7.5" dy="-4">7</tspan></text>
<text x="621.44" y="155.40" font-size="11.0" text-anchor="end" fill="#1a1a1a" stroke="#1a1a1a" stroke-width="0.22" transform="rotate(-45 621.44 155.40)">2×10<tspan font-size="7.5" dy="-4">7</tspan></text>
<text x="637.16" y="155.40" font-size="11.0" text-anchor="end" fill="#1a1a1a" stroke="#1a1a1a" stroke-width="0.22" transform="rotate(-45 637.16 155.40)">3×10<tspan font-size="7.5" dy="-4">7</tspan></text>
<text x="652.88" y="155.40" font-size="11.0" text-anchor="end" fill="#1a1a1a" stroke="#1a1a1a" stroke-width="0.22" transform="rotate(-45 652.88 155.40)">4×10<tspan font-size="7.5" dy="-4">7</tspan></text>
<text x="668.60" y="155.40" font-size="11.0" text-anchor="end" fill="#1a1a1a" stroke="#1a1a1a" stroke-width="0.22" transform="rotate(-45 668.60 155.40)">5×10<tspan font-size="7.5" dy="-4">7</tspan></text>
<text x="579.60" y="52.50" font-size="10.6" text-anchor="middle" fill="#1a1a1a" stroke="#1a1a1a" stroke-width="0.22" transform="rotate(-90 579.60 52.50)">Lu.</text>
<text x="579.60" y="72.20" font-size="10.6" text-anchor="middle" fill="#1a1a1a" stroke="#1a1a1a" stroke-width="0.22" transform="rotate(-90 579.60 72.20)">He.</text>
<text x="579.60" y="91.80" font-size="10.6" text-anchor="middle" fill="#1a1a1a" stroke="#1a1a1a" stroke-width="0.22" transform="rotate(-90 579.60 91.80)">Li.</text>
<text x="579.60" y="111.50" font-size="10.6" text-anchor="middle" fill="#1a1a1a" stroke="#1a1a1a" stroke-width="0.22" transform="rotate(-90 579.60 111.50)">Sp.</text>
<text x="579.60" y="131.10" font-size="10.6" text-anchor="middle" fill="#1a1a1a" stroke="#1a1a1a" stroke-width="0.22" transform="rotate(-90 579.60 131.10)">Ki.</text>
<text x="625.20" y="35.50" font-size="10.5" text-anchor="middle" fill="#1a1a1a" stroke="#1a1a1a" stroke-width="0.22">aT (Alexa flour 647)</text>
<line x1="670.40" y1="44.40" x2="670.40" y2="56.10" stroke="#333" stroke-width="1"/>
<text x="674.20" y="34.50" font-size="8.6" fill="#1a1a1a" stroke="#1a1a1a" stroke-width="0.22" transform="rotate(90 674.20 34.50)">P=0.0032</text>
<rect x="613.80" y="110.30" width="10.50" height="8.40" fill="#68a8fa"/>
<rect x="613.80" y="123.10" width="10.50" height="8.40" fill="#ee9a4a"/>
<text x="630.40" y="118.10" font-size="10.5" fill="#1a1a1a" stroke="#1a1a1a" stroke-width="0.22">Mexo+aT</text>
<text x="630.40" y="131.00" font-size="10.5" fill="#1a1a1a" stroke="#1a1a1a" stroke-width="0.22">Mexo-cl-aT</text>
<text x="625.90" y="186.50" font-size="10.9" text-anchor="middle" fill="#1a1a1a" stroke="#1a1a1a" stroke-width="0.22">Total radiant efficiency</text>
<text x="625.50" y="199.70" font-size="11.2" text-anchor="middle" fill="#1a1a1a" stroke="#1a1a1a" stroke-width="0.22">(p/s)/(μW/cm<tspan font-size="7.6" dy="-4">2</tspan><tspan dy="4">)</tspan></text>
<path d="M171.60,332.50 C172.60,332.50 173.60,332.50 174.61,332.50 C175.36,332.50 176.11,330.00 176.86,327.68 C177.61,325.36 178.36,319.79 179.11,315.14 C180.12,308.94 181.12,298.46 182.12,293.92 C182.87,290.51 183.62,288.60 184.38,286.20 C185.13,283.80 185.88,281.64 186.63,279.45 C187.88,275.80 189.13,273.98 190.39,268.84 C191.39,264.74 192.39,253.54 193.39,247.62 C194.14,243.19 194.90,236.05 195.65,236.05 C196.15,236.05 196.65,237.51 197.15,239.91 C197.53,241.71 197.90,254.85 198.28,264.99 C198.65,275.12 199.03,294.44 199.41,303.56 C199.78,312.69 200.16,321.01 200.53,324.78 C200.91,328.56 201.28,332.50 201.66,332.50 C218.69,332.50 235.73,332.50 252.76,332.50 C253.51,332.50 254.27,326.14 255.02,322.86 C256.02,318.47 257.02,313.31 258.02,309.35 C259.02,305.39 260.03,300.80 261.03,298.74 C262.28,296.18 263.53,293.44 264.79,293.44 C265.79,293.44 266.79,295.05 267.79,296.81 C268.54,298.13 269.29,301.62 270.05,304.92 C270.92,308.76 271.80,315.84 272.68,319.96 C273.48,323.73 274.28,329.61 275.08,329.61 C275.66,329.61 276.23,327.91 276.81,326.71 C277.24,325.83 277.66,323.34 278.09,323.34 C278.41,323.34 278.74,328.29 279.06,329.61 C279.39,330.93 279.72,332.50 280.04,332.50 C284.22,332.50 288.41,332.50 292.59,332.50 C293.09,332.50 293.59,327.90 294.09,325.75 C294.72,323.06 295.35,318.26 295.97,318.03 C296.47,317.85 296.98,317.74 297.48,317.74 C297.85,317.74 298.23,319.19 298.60,319.96 C299.05,320.88 299.51,322.86 299.96,322.86 C300.26,322.86 300.56,320.65 300.86,319.00 C301.36,316.24 301.86,308.87 302.36,306.46 C303.36,301.64 304.36,297.01 305.37,297.01 C306.12,297.01 306.87,298.68 307.62,300.67 C308.12,302.00 308.62,306.88 309.12,309.64 C310.13,315.17 311.13,321.83 312.13,324.78 C312.88,327.00 313.63,328.51 314.38,329.61 C315.26,330.89 316.14,332.50 317.02,332.50 C318.64,332.50 320.27,332.50 321.90,332.50" fill="none" stroke="#3cdc28" stroke-width="1.1"/>
<path d="M171.60,332.50 C172.10,332.50 172.60,332.50 173.10,332.50 C173.85,332.50 174.61,329.87 175.36,327.68 C176.61,324.02 177.86,315.02 179.11,308.39 C180.12,303.08 181.12,295.43 182.12,291.99 C182.87,289.41 183.62,287.96 184.38,286.20 C185.13,284.45 185.88,283.31 186.63,281.38 C187.88,278.17 189.13,274.19 190.39,268.84 C191.39,264.56 192.39,256.07 193.39,251.48 C194.14,248.04 194.90,242.80 195.65,242.80 C196.15,242.80 196.65,244.90 197.15,247.62 C197.65,250.35 198.15,265.32 198.65,274.63 C199.16,283.94 199.66,295.85 200.16,303.56 C200.66,311.28 201.16,318.57 201.66,322.86 C202.16,327.14 202.66,332.50 203.16,332.50 C219.45,332.50 235.73,332.50 252.01,332.50 C252.76,332.50 253.51,327.87 254.26,324.78 C255.02,321.70 255.77,315.36 256.52,313.21 C257.52,310.34 258.52,308.59 259.53,307.42 C260.28,306.55 261.03,306.18 261.78,305.49 C262.53,304.81 263.28,303.28 264.03,303.28 C264.79,303.28 265.54,305.54 266.29,306.46 C267.04,307.37 267.79,308.48 268.54,308.87 C269.30,309.26 270.05,309.14 270.80,309.64 C271.30,309.97 271.80,312.80 272.30,315.14 C272.80,317.47 273.30,322.95 273.80,324.78 C274.31,326.62 274.81,328.64 275.31,328.64 C276.06,328.64 276.81,327.68 277.56,327.68 C278.06,327.68 278.56,328.89 279.06,329.61 C279.67,330.46 280.27,332.50 280.87,332.50 C284.45,332.50 288.03,332.50 291.61,332.50 C292.19,332.50 292.77,328.93 293.34,326.71 C293.84,324.78 294.34,320.90 294.85,319.96 C295.72,318.32 296.60,317.73 297.48,317.07 C298.30,316.44 299.13,316.50 299.96,315.62 C300.76,314.77 301.56,305.29 302.36,301.64 C303.36,297.07 304.36,290.54 305.37,290.54 C306.12,290.54 306.87,292.20 307.62,293.92 C308.20,295.24 308.77,298.74 309.35,301.64 C310.28,306.30 311.20,315.17 312.13,318.03 C312.88,320.35 313.63,321.47 314.38,322.86 C315.39,324.70 316.39,326.37 317.39,327.68 C318.89,329.63 320.40,330.89 321.90,332.50" fill="none" stroke="#f03434" stroke-width="1.1"/>
<line x1="171.60" y1="236.05" x2="171.60" y2="336.30" stroke="#666" stroke-width="1.1"/>
<line x1="167.80" y1="332.50" x2="321.90" y2="332.50" stroke="#555" stroke-width="1.1"/>
<line x1="167.80" y1="332.50" x2="171.60" y2="332.50" stroke="#666" stroke-width="1.1"/>
<text x="166.30" y="336.20" font-size="10.5" text-anchor="end" fill="#1a1a1a" stroke="#1a1a1a" stroke-width="0.22">0</text>
<line x1="167.80" y1="313.21" x2="171.60" y2="313.21" stroke="#666" stroke-width="1.1"/>
<text x="166.30" y="316.91" font-size="10.5" text-anchor="end" fill="#1a1a1a" stroke="#1a1a1a" stroke-width="0.22">20</text>
<line x1="167.80" y1="293.92" x2="171.60" y2="293.92" stroke="#666" stroke-width="1.1"/>
<text x="166.30" y="297.62" font-size="10.5" text-anchor="end" fill="#1a1a1a" stroke="#1a1a1a" stroke-width="0.22">40</text>
<line x1="167.80" y1="274.63" x2="171.60" y2="274.63" stroke="#666" stroke-width="1.1"/>
<text x="166.30" y="278.33" font-size="10.5" text-anchor="end" fill="#1a1a1a" stroke="#1a1a1a" stroke-width="0.22">60</text>
<line x1="167.80" y1="255.34" x2="171.60" y2="255.34" stroke="#666" stroke-width="1.1"/>
<text x="166.30" y="259.04" font-size="10.5" text-anchor="end" fill="#1a1a1a" stroke="#1a1a1a" stroke-width="0.22">80</text>
<line x1="167.80" y1="236.05" x2="171.60" y2="236.05" stroke="#666" stroke-width="1.1"/>
<text x="166.30" y="239.75" font-size="10.5" text-anchor="end" fill="#1a1a1a" stroke="#1a1a1a" stroke-width="0.22">100</text>
<line x1="171.60" y1="332.50" x2="171.60" y2="336.30" stroke="#555" stroke-width="1.1"/>
<text x="171.60" y="346.80" font-size="10.5" text-anchor="middle" fill="#1a1a1a" stroke="#1a1a1a" stroke-width="0.22">0</text>
<line x1="209.17" y1="332.50" x2="209.17" y2="336.30" stroke="#555" stroke-width="1.1"/>
<text x="209.17" y="346.80" font-size="10.5" text-anchor="middle" fill="#1a1a1a" stroke="#1a1a1a" stroke-width="0.22">50</text>
<line x1="246.75" y1="332.50" x2="246.75" y2="336.30" stroke="#555" stroke-width="1.1"/>
<text x="246.75" y="346.80" font-size="10.5" text-anchor="middle" fill="#1a1a1a" stroke="#1a1a1a" stroke-width="0.22">100</text>
<line x1="284.32" y1="332.50" x2="284.32" y2="336.30" stroke="#555" stroke-width="1.1"/>
<text x="284.32" y="346.80" font-size="10.5" text-anchor="middle" fill="#1a1a1a" stroke="#1a1a1a" stroke-width="0.22">150</text>
<line x1="321.90" y1="332.50" x2="321.90" y2="336.30" stroke="#555" stroke-width="1.1"/>
<text x="321.90" y="346.80" font-size="10.5" text-anchor="middle" fill="#1a1a1a" stroke="#1a1a1a" stroke-width="0.22">200</text>
<text x="247.05" y="361.20" font-size="10.8" text-anchor="middle" fill="#1a1a1a" stroke="#1a1a1a" stroke-width="0.22">Distance (pixels)</text>
<text x="141.00" y="282.27" font-size="10.5" text-anchor="middle" fill="#1a1a1a" stroke="#1a1a1a" stroke-width="0.22" transform="rotate(-90 141.00 282.27)">Relative grey value (%)</text>
<text x="221.00" y="225.20" font-size="10.7" fill="#1a1a1a" stroke="#1a1a1a" stroke-width="0.22">Mexo-fl-aT</text>
<line x1="278.30" y1="236.20" x2="289.30" y2="236.20" stroke="#f03434" stroke-width="1.1"/>
<line x1="278.30" y1="253.80" x2="289.30" y2="253.80" stroke="#3cdc28" stroke-width="1.1"/>
<text x="295.50" y="240.10" font-size="10.5" fill="#1a1a1a" stroke="#1a1a1a" stroke-width="0.22">Mexo</text>
<text x="295.50" y="257.30" font-size="10.5" fill="#1a1a1a" stroke="#1a1a1a" stroke-width="0.22">aT</text>
<path d="M520.00,332.20 C522.91,332.20 525.81,332.20 528.72,332.20 C529.44,332.20 530.17,330.95 530.90,329.30 C531.38,328.20 531.87,322.95 532.35,320.60 C532.91,317.89 533.46,313.83 534.02,313.83 C534.43,313.83 534.84,319.71 535.26,322.53 C535.74,325.85 536.23,332.20 536.71,332.20 C537.31,332.20 537.92,330.71 538.53,329.30 C538.94,328.34 539.35,324.46 539.76,324.46 C540.20,324.46 540.63,328.09 541.07,329.30 C541.50,330.51 541.94,332.20 542.38,332.20 C543.88,332.20 545.38,332.20 546.88,332.20 C547.61,332.20 548.33,316.38 549.06,303.19 C549.54,294.40 550.03,275.56 550.51,264.51 C551.00,253.46 551.48,235.50 551.97,235.50 C552.33,235.50 552.69,247.11 553.06,254.84 C553.47,263.60 553.88,278.62 554.29,288.01 C554.97,303.46 555.65,327.37 556.33,327.37 C556.81,327.37 557.29,325.87 557.78,324.46 C558.84,321.38 559.91,308.85 560.97,302.51 C561.85,297.33 562.72,291.62 563.59,288.69 C564.36,286.08 565.14,282.88 565.91,282.88 C566.35,282.88 566.79,285.92 567.22,288.69 C567.68,291.60 568.14,304.16 568.60,304.16 C569.11,304.16 569.62,298.27 570.13,295.45 C570.59,292.90 571.05,288.01 571.51,288.01 C572.02,288.01 572.53,302.38 573.03,308.02 C573.76,316.08 574.49,325.89 575.21,328.62 C575.70,330.44 576.18,332.20 576.67,332.20 C578.12,332.20 579.57,330.08 581.03,327.37 C581.99,325.56 582.96,313.83 583.93,313.83 C584.42,313.83 584.90,314.88 585.38,315.76 C586.11,317.08 586.84,319.88 587.56,322.53 C588.29,325.18 589.02,332.20 589.74,332.20 C591.20,332.20 592.65,331.90 594.10,331.23 C595.07,330.79 596.04,320.36 597.01,312.86 C597.98,305.36 598.95,292.24 599.91,283.85 C600.88,275.46 601.85,261.61 602.82,261.61 C603.31,261.61 603.79,268.62 604.27,274.18 C604.56,277.52 604.86,284.63 605.15,288.01 C606.31,301.54 607.47,310.23 608.63,317.02 C609.60,322.67 610.57,328.38 611.54,330.27 C612.02,331.21 612.51,332.20 612.99,332.20 C617.11,332.20 621.23,332.20 625.34,332.20 C625.71,332.20 626.07,320.95 626.43,317.69 C626.87,313.79 627.30,308.99 627.74,308.99 C628.39,308.99 629.05,318.66 629.70,318.66 C630.19,318.66 630.67,315.41 631.15,313.83 C631.86,311.53 632.56,307.06 633.26,307.06 C633.77,307.06 634.28,314.90 634.79,317.69 C635.51,321.69 636.24,327.37 636.97,327.37 C637.45,327.37 637.94,326.51 638.42,325.43 C639.15,323.82 639.87,310.05 640.60,305.12 C641.33,300.20 642.05,293.52 642.78,293.52 C643.48,293.52 644.18,311.41 644.89,311.41 C645.44,311.41 646.00,306.09 646.56,306.09 C647.23,306.09 647.91,318.66 648.59,318.66 C649.07,318.66 649.56,317.78 650.04,316.73 C650.53,315.67 651.01,308.02 651.50,308.02 C651.98,308.02 652.47,316.57 652.95,320.60 C653.43,324.62 653.92,332.20 654.40,332.20 C658.03,332.20 661.67,332.20 665.30,332.20" fill="none" stroke="#3cdc28" stroke-width="1.1"/>
<path d="M520.00,324.46 C520.77,324.88 521.55,325.72 522.32,325.72 C523.00,325.72 523.68,323.01 524.36,321.56 C524.94,320.33 525.52,317.69 526.10,317.69 C526.61,317.69 527.12,320.46 527.63,322.53 C528.09,324.40 528.55,329.44 529.01,330.27 C529.64,331.40 530.27,332.20 530.90,332.20 C535.74,332.20 540.58,332.20 545.43,332.20 C545.91,332.20 546.40,323.82 546.88,317.69 C547.61,308.51 548.33,278.05 549.06,278.05 C549.42,278.05 549.79,280.19 550.15,281.92 C550.56,283.87 550.97,287.28 551.38,290.91 C552.06,296.89 552.74,309.30 553.42,314.79 C554.00,319.51 554.58,325.72 555.16,325.72 C555.55,325.72 555.94,324.14 556.33,322.53 C557.05,319.52 557.78,307.15 558.50,298.36 C559.23,289.56 559.96,275.90 560.68,269.34 C561.65,260.61 562.62,250.00 563.59,250.00 C564.07,250.00 564.56,253.26 565.04,256.77 C565.62,261.00 566.21,276.61 566.79,288.01 C567.17,295.61 567.56,307.46 567.95,312.86 C568.53,320.97 569.11,328.68 569.69,330.27 C570.08,331.32 570.47,332.20 570.86,332.20 C573.76,332.20 576.67,332.20 579.57,332.20 C580.25,332.20 580.93,325.72 581.61,325.72 C582.14,325.72 582.67,329.31 583.21,330.27 C583.69,331.14 584.17,332.20 584.66,332.20 C586.84,332.20 589.02,332.20 591.20,332.20 C591.97,332.20 592.75,321.56 593.52,321.56 C593.96,321.56 594.39,322.13 594.83,322.53 C595.36,323.02 595.90,323.88 596.43,324.46 C597.40,325.53 598.37,327.37 599.33,327.37 C600.01,327.37 600.69,318.73 601.37,312.86 C602.09,306.57 602.82,296.41 603.55,288.69 C604.27,280.96 605.00,268.77 605.73,266.44 C606.21,264.90 606.70,263.54 607.18,263.54 C607.66,263.54 608.15,266.63 608.63,269.34 C609.60,274.77 610.57,294.55 611.54,302.22 C612.51,309.89 613.48,318.73 614.45,319.92 C615.22,320.87 615.99,320.61 616.77,321.56 C617.45,322.40 618.13,328.93 618.80,330.27 C619.29,331.22 619.77,332.20 620.26,332.20 C623.16,332.20 626.07,332.20 628.98,332.20 C629.46,332.20 629.94,330.27 630.43,330.27 C630.91,330.27 631.40,332.20 631.88,332.20 C643.02,332.20 654.16,332.20 665.30,332.20" fill="none" stroke="#f03434" stroke-width="1.1"/>
<line x1="520.00" y1="235.50" x2="520.00" y2="336.00" stroke="#777" stroke-width="1.1"/>
<line x1="516.20" y1="332.20" x2="665.30" y2="332.20" stroke="#555" stroke-width="1.1"/>
<line x1="516.20" y1="332.20" x2="520.00" y2="332.20" stroke="#777" stroke-width="1.1"/>
<text x="514.70" y="335.90" font-size="10.5" text-anchor="end" fill="#1a1a1a" stroke="#1a1a1a" stroke-width="0.22">0</text>
<line x1="516.20" y1="312.86" x2="520.00" y2="312.86" stroke="#777" stroke-width="1.1"/>
<text x="514.70" y="316.56" font-size="10.5" text-anchor="end" fill="#1a1a1a" stroke="#1a1a1a" stroke-width="0.22">20</text>
<line x1="516.20" y1="293.52" x2="520.00" y2="293.52" stroke="#777" stroke-width="1.1"/>
<text x="514.70" y="297.22" font-size="10.5" text-anchor="end" fill="#1a1a1a" stroke="#1a1a1a" stroke-width="0.22">40</text>
<line x1="516.20" y1="274.18" x2="520.00" y2="274.18" stroke="#777" stroke-width="1.1"/>
<text x="514.70" y="277.88" font-size="10.5" text-anchor="end" fill="#1a1a1a" stroke="#1a1a1a" stroke-width="0.22">60</text>
<line x1="516.20" y1="254.84" x2="520.00" y2="254.84" stroke="#777" stroke-width="1.1"/>
<text x="514.70" y="258.54" font-size="10.5" text-anchor="end" fill="#1a1a1a" stroke="#1a1a1a" stroke-width="0.22">80</text>
<line x1="516.20" y1="235.50" x2="520.00" y2="235.50" stroke="#777" stroke-width="1.1"/>
<text x="514.70" y="239.20" font-size="10.5" text-anchor="end" fill="#1a1a1a" stroke="#1a1a1a" stroke-width="0.22">100</text>
<line x1="520.00" y1="332.20" x2="520.00" y2="336.00" stroke="#555" stroke-width="1.1"/>
<text x="520.00" y="346.50" font-size="10.5" text-anchor="middle" fill="#1a1a1a" stroke="#1a1a1a" stroke-width="0.22">0</text>
<line x1="556.33" y1="332.20" x2="556.33" y2="336.00" stroke="#555" stroke-width="1.1"/>
<text x="556.33" y="346.50" font-size="10.5" text-anchor="middle" fill="#1a1a1a" stroke="#1a1a1a" stroke-width="0.22">50</text>
<line x1="592.65" y1="332.20" x2="592.65" y2="336.00" stroke="#555" stroke-width="1.1"/>
<text x="592.65" y="346.50" font-size="10.5" text-anchor="middle" fill="#1a1a1a" stroke="#1a1a1a" stroke-width="0.22">100</text>
<line x1="628.98" y1="332.20" x2="628.98" y2="336.00" stroke="#555" stroke-width="1.1"/>
<text x="628.98" y="346.50" font-size="10.5" text-anchor="middle" fill="#1a1a1a" stroke="#1a1a1a" stroke-width="0.22">150</text>
<line x1="665.30" y1="332.20" x2="665.30" y2="336.00" stroke="#555" stroke-width="1.1"/>
<text x="665.30" y="346.50" font-size="10.5" text-anchor="middle" fill="#1a1a1a" stroke="#1a1a1a" stroke-width="0.22">200</text>
<text x="592.95" y="361.20" font-size="10.8" text-anchor="middle" fill="#1a1a1a" stroke="#1a1a1a" stroke-width="0.22">Distance (pixels)</text>
<text x="491.20" y="281.85" font-size="10.5" text-anchor="middle" fill="#1a1a1a" stroke="#1a1a1a" stroke-width="0.22" transform="rotate(-90 491.20 281.85)">Relative grey value (%)</text>
<text x="566.80" y="224.80" font-size="10.7" fill="#1a1a1a" stroke="#1a1a1a" stroke-width="0.22">Mexo-cl-aT</text>
<line x1="623.90" y1="236.20" x2="634.90" y2="236.20" stroke="#f03434" stroke-width="1.1"/>
<line x1="623.90" y1="253.80" x2="634.90" y2="253.80" stroke="#3cdc28" stroke-width="1.1"/>
<text x="641.10" y="240.10" font-size="10.5" fill="#1a1a1a" stroke="#1a1a1a" stroke-width="0.22">Mexo</text>
<text x="641.10" y="257.30" font-size="10.5" fill="#1a1a1a" stroke="#1a1a1a" stroke-width="0.22">aT</text>
<rect x="23.50" y="237.50" width="100.00" height="98.80" fill="#000"/>
<g fill="#1e1ee8" shape-rendering="crispEdges"><rect x="42" y="239" width="3" height="2"/><rect x="45" y="238" width="2" height="2"/><rect x="49" y="239" width="3" height="2"/><rect x="52" y="239" width="2" height="2"/><rect x="57" y="238" width="2" height="3"/><rect x="60" y="238" width="2" height="3"/><rect x="63" y="239" width="3" height="2"/><rect x="66" y="239" width="2" height="2"/><rect x="69" y="238" width="3" height="2"/><rect x="82" y="238" width="2" height="2"/><rect x="84" y="238" width="3" height="2"/><rect x="87" y="238" width="2" height="2"/><rect x="102" y="238" width="3" height="2"/><rect x="105" y="239" width="3" height="2"/><rect x="108" y="238" width="2" height="2"/><rect x="114" y="239" width="2" height="2"/><rect x="117" y="238" width="2" height="2"/><rect x="121" y="238" width="2" height="2"/><rect x="43" y="241" width="3" height="2"/><rect x="47" y="242" width="2" height="3"/><rect x="49" y="241" width="2" height="2"/><rect x="52" y="241" width="3" height="2"/><rect x="55" y="242" width="2" height="2"/><rect x="62" y="241" width="2" height="2"/><rect x="64" y="242" width="3" height="2"/><rect x="68" y="241" width="2" height="2"/><rect x="70" y="242" width="2" height="3"/><rect x="74" y="242" width="3" height="2"/><rect x="77" y="241" width="2" height="2"/><rect x="79" y="242" width="2" height="2"/><rect x="85" y="241" width="3" height="2"/><rect x="107" y="242" width="2" height="3"/><rect x="109" y="242" width="2" height="2"/><rect x="112" y="241" width="2" height="2"/><rect x="115" y="242" width="2" height="2"/><rect x="118" y="241" width="2" height="2"/><rect x="28" y="245" width="3" height="2"/><rect x="46" y="245" width="2" height="2"/><rect x="48" y="244" width="2" height="3"/><rect x="51" y="245" width="2" height="2"/><rect x="55" y="245" width="2" height="3"/><rect x="57" y="245" width="2" height="2"/><rect x="60" y="244" width="2" height="2"/><rect x="64" y="244" width="3" height="2"/><rect x="66" y="244" width="2" height="3"/><rect x="69" y="245" width="2" height="2"/><rect x="73" y="245" width="3" height="2"/><rect x="75" y="245" width="2" height="3"/><rect x="81" y="244" width="3" height="2"/><rect x="84" y="244" width="3" height="2"/><rect x="100" y="244" width="2" height="3"/><rect x="105" y="244" width="2" height="3"/><rect x="111" y="244" width="3" height="2"/><rect x="114" y="244" width="2" height="2"/><rect x="117" y="244" width="2" height="2"/><rect x="120" y="244" width="2" height="3"/><rect x="28" y="247" width="2" height="2"/><rect x="46" y="247" width="2" height="2"/><rect x="52" y="248" width="3" height="2"/><rect x="56" y="247" width="3" height="2"/><rect x="58" y="247" width="2" height="2"/><rect x="61" y="247" width="2" height="2"/><rect x="68" y="248" width="2" height="3"/><rect x="71" y="247" width="2" height="2"/><rect x="83" y="247" width="2" height="3"/><rect x="106" y="247" width="3" height="2"/><rect x="109" y="247" width="3" height="2"/><rect x="112" y="247" width="2" height="3"/><rect x="116" y="247" width="3" height="2"/><rect x="118" y="247" width="3" height="2"/><rect x="46" y="250" width="2" height="2"/><rect x="48" y="250" width="2" height="2"/><rect x="54" y="250" width="2" height="2"/><rect x="58" y="250" width="2" height="2"/><rect x="60" y="251" width="2" height="2"/><rect x="67" y="250" width="3" height="2"/><rect x="72" y="250" width="3" height="2"/><rect x="109" y="251" width="2" height="2"/><rect x="111" y="251" width="2" height="2"/><rect x="114" y="250" width="2" height="3"/><rect x="117" y="251" width="2" height="3"/><rect x="56" y="253" width="2" height="2"/><rect x="58" y="253" width="2" height="3"/><rect x="61" y="253" width="2" height="2"/><rect x="64" y="253" width="3" height="2"/><rect x="70" y="254" width="2" height="2"/><rect x="109" y="254" width="2" height="3"/><rect x="113" y="254" width="2" height="2"/><rect x="116" y="253" width="2" height="2"/><rect x="121" y="253" width="2" height="2"/><rect x="46" y="256" width="3" height="2"/><rect x="49" y="256" width="3" height="2"/><rect x="58" y="256" width="3" height="2"/><rect x="60" y="256" width="3" height="2"/><rect x="64" y="257" width="2" height="2"/><rect x="69" y="256" width="2" height="2"/><rect x="73" y="256" width="2" height="2"/><rect x="108" y="256" width="2" height="2"/><rect x="111" y="257" width="2" height="2"/><rect x="114" y="256" width="3" height="2"/><rect x="120" y="256" width="3" height="2"/><rect x="56" y="259" width="2" height="3"/><rect x="58" y="260" width="2" height="2"/><rect x="61" y="259" width="2" height="2"/><rect x="65" y="259" width="2" height="3"/><rect x="67" y="259" width="3" height="2"/><rect x="70" y="260" width="2" height="3"/><rect x="73" y="260" width="3" height="2"/><rect x="109" y="259" width="2" height="2"/><rect x="112" y="260" width="3" height="2"/><rect x="115" y="260" width="2" height="3"/><rect x="119" y="259" width="3" height="2"/><rect x="121" y="259" width="2" height="2"/><rect x="66" y="263" width="2" height="3"/><rect x="69" y="262" width="3" height="2"/><rect x="72" y="262" width="3" height="2"/><rect x="82" y="262" width="2" height="2"/><rect x="85" y="262" width="2" height="2"/><rect x="94" y="262" width="2" height="3"/><rect x="96" y="262" width="2" height="2"/><rect x="102" y="262" width="2" height="2"/><rect x="106" y="262" width="2" height="2"/><rect x="115" y="262" width="3" height="2"/><rect x="64" y="266" width="3" height="2"/><rect x="67" y="265" width="2" height="2"/><rect x="70" y="265" width="3" height="2"/><rect x="73" y="266" width="2" height="2"/><rect x="76" y="265" width="2" height="3"/><rect x="79" y="265" width="2" height="2"/><rect x="89" y="265" width="2" height="2"/><rect x="91" y="265" width="3" height="2"/><rect x="98" y="265" width="3" height="2"/><rect x="100" y="265" width="3" height="2"/><rect x="112" y="265" width="3" height="2"/><rect x="118" y="265" width="3" height="2"/><rect x="39" y="268" width="3" height="2"/><rect x="46" y="268" width="3" height="2"/><rect x="69" y="268" width="2" height="2"/><rect x="73" y="268" width="3" height="2"/><rect x="75" y="269" width="2" height="2"/><rect x="79" y="269" width="2" height="2"/><rect x="81" y="269" width="2" height="3"/><rect x="84" y="268" width="2" height="2"/><rect x="90" y="269" width="2" height="3"/><rect x="93" y="268" width="2" height="3"/><rect x="96" y="268" width="2" height="3"/><rect x="99" y="268" width="3" height="2"/><rect x="103" y="268" width="3" height="2"/><rect x="105" y="268" width="3" height="2"/><rect x="117" y="268" width="2" height="2"/><rect x="41" y="271" width="2" height="2"/><rect x="64" y="271" width="2" height="2"/><rect x="67" y="272" width="2" height="3"/><rect x="70" y="272" width="2" height="2"/><rect x="73" y="272" width="2" height="2"/><rect x="76" y="271" width="3" height="2"/><rect x="85" y="271" width="2" height="2"/><rect x="89" y="271" width="2" height="2"/><rect x="92" y="271" width="2" height="3"/><rect x="94" y="271" width="2" height="2"/><rect x="97" y="271" width="3" height="2"/><rect x="101" y="272" width="2" height="2"/><rect x="106" y="271" width="2" height="2"/><rect x="116" y="271" width="3" height="2"/><rect x="121" y="271" width="2" height="2"/><rect x="27" y="274" width="2" height="3"/><rect x="30" y="275" width="2" height="2"/><rect x="34" y="274" width="3" height="2"/><rect x="39" y="274" width="3" height="2"/><rect x="42" y="274" width="2" height="2"/><rect x="46" y="274" width="3" height="2"/><rect x="63" y="274" width="2" height="2"/><rect x="66" y="274" width="2" height="2"/><rect x="69" y="274" width="3" height="2"/><rect x="72" y="274" width="2" height="2"/><rect x="76" y="275" width="2" height="2"/><rect x="78" y="274" width="2" height="3"/><rect x="93" y="275" width="2" height="2"/><rect x="117" y="274" width="3" height="2"/><rect x="120" y="274" width="3" height="2"/><rect x="34" y="278" width="2" height="2"/><rect x="38" y="277" width="2" height="2"/><rect x="40" y="277" width="2" height="2"/><rect x="43" y="277" width="3" height="2"/><rect x="52" y="278" width="2" height="2"/><rect x="58" y="277" width="2" height="2"/><rect x="64" y="278" width="2" height="3"/><rect x="67" y="277" width="2" height="3"/><rect x="70" y="278" width="2" height="3"/><rect x="73" y="277" width="3" height="2"/><rect x="79" y="277" width="2" height="2"/><rect x="82" y="277" width="3" height="2"/><rect x="119" y="277" width="3" height="2"/><rect x="25" y="280" width="3" height="2"/><rect x="28" y="280" width="2" height="3"/><rect x="33" y="281" width="2" height="3"/><rect x="36" y="280" width="2" height="2"/><rect x="42" y="280" width="3" height="2"/><rect x="48" y="281" width="3" height="2"/><rect x="54" y="281" width="3" height="2"/><rect x="58" y="280" width="2" height="2"/><rect x="60" y="280" width="3" height="2"/><rect x="63" y="280" width="3" height="2"/><rect x="66" y="280" width="2" height="3"/><rect x="69" y="281" width="3" height="2"/><rect x="72" y="280" width="2" height="2"/><rect x="75" y="280" width="2" height="3"/><rect x="79" y="280" width="2" height="2"/><rect x="81" y="280" width="3" height="2"/><rect x="87" y="280" width="3" height="2"/><rect x="41" y="283" width="3" height="2"/><rect x="47" y="284" width="2" height="2"/><rect x="55" y="283" width="2" height="3"/><rect x="59" y="283" width="2" height="2"/><rect x="61" y="284" width="2" height="3"/><rect x="67" y="283" width="3" height="2"/><rect x="103" y="283" width="3" height="2"/><rect x="109" y="283" width="2" height="2"/><rect x="112" y="283" width="2" height="2"/><rect x="115" y="283" width="2" height="3"/><rect x="118" y="283" width="3" height="2"/><rect x="121" y="283" width="2" height="2"/><rect x="39" y="286" width="3" height="2"/><rect x="42" y="286" width="2" height="2"/><rect x="54" y="287" width="2" height="2"/><rect x="57" y="286" width="3" height="2"/><rect x="60" y="286" width="3" height="2"/><rect x="69" y="286" width="2" height="2"/><rect x="72" y="286" width="3" height="2"/><rect x="76" y="286" width="2" height="3"/><rect x="106" y="286" width="3" height="2"/><rect x="109" y="286" width="2" height="2"/><rect x="112" y="287" width="2" height="2"/><rect x="115" y="286" width="2" height="2"/><rect x="117" y="286" width="2" height="2"/><rect x="120" y="286" width="2" height="2"/><rect x="43" y="289" width="3" height="2"/><rect x="53" y="290" width="3" height="2"/><rect x="56" y="289" width="3" height="2"/><rect x="59" y="289" width="2" height="2"/><rect x="61" y="290" width="2" height="3"/><rect x="71" y="289" width="2" height="3"/><rect x="74" y="289" width="2" height="3"/><rect x="76" y="290" width="2" height="2"/><rect x="80" y="289" width="2" height="2"/><rect x="110" y="289" width="2" height="2"/><rect x="113" y="289" width="3" height="2"/><rect x="116" y="290" width="2" height="2"/><rect x="118" y="289" width="2" height="2"/><rect x="120" y="289" width="3" height="2"/><rect x="39" y="292" width="3" height="2"/><rect x="45" y="292" width="2" height="2"/><rect x="51" y="292" width="2" height="3"/><rect x="55" y="293" width="2" height="2"/><rect x="58" y="292" width="3" height="2"/><rect x="60" y="292" width="2" height="3"/><rect x="69" y="292" width="2" height="3"/><rect x="73" y="292" width="3" height="2"/><rect x="105" y="292" width="2" height="2"/><rect x="108" y="292" width="2" height="2"/><rect x="111" y="292" width="2" height="2"/><rect x="115" y="292" width="3" height="2"/><rect x="117" y="292" width="2" height="3"/><rect x="120" y="292" width="3" height="2"/><rect x="43" y="295" width="2" height="2"/><rect x="46" y="295" width="3" height="2"/><rect x="58" y="295" width="2" height="2"/><rect x="76" y="295" width="3" height="2"/><rect x="80" y="295" width="2" height="3"/><rect x="82" y="295" width="2" height="2"/><rect x="104" y="296" width="2" height="2"/><rect x="107" y="295" width="2" height="2"/><rect x="109" y="296" width="2" height="2"/><rect x="113" y="296" width="2" height="2"/><rect x="115" y="296" width="2" height="3"/><rect x="119" y="295" width="2" height="3"/><rect x="121" y="295" width="2" height="2"/><rect x="24" y="298" width="2" height="2"/><rect x="27" y="298" width="2" height="2"/><rect x="33" y="298" width="2" height="2"/><rect x="36" y="299" width="3" height="2"/><rect x="39" y="298" width="2" height="2"/><rect x="43" y="298" width="3" height="2"/><rect x="45" y="298" width="2" height="2"/><rect x="55" y="298" width="2" height="2"/><rect x="57" y="298" width="2" height="2"/><rect x="100" y="298" width="2" height="3"/><rect x="105" y="298" width="2" height="2"/><rect x="112" y="298" width="2" height="3"/><rect x="114" y="298" width="2" height="2"/><rect x="117" y="299" width="2" height="2"/><rect x="120" y="299" width="3" height="2"/><rect x="28" y="302" width="3" height="2"/><rect x="35" y="301" width="3" height="2"/><rect x="37" y="302" width="2" height="2"/><rect x="40" y="301" width="2" height="3"/><rect x="44" y="302" width="2" height="2"/><rect x="46" y="301" width="3" height="2"/><rect x="50" y="302" width="2" height="3"/><rect x="52" y="301" width="3" height="2"/><rect x="56" y="301" width="2" height="3"/><rect x="82" y="301" width="3" height="2"/><rect x="104" y="301" width="3" height="2"/><rect x="106" y="302" width="2" height="3"/><rect x="113" y="301" width="2" height="3"/><rect x="115" y="302" width="2" height="2"/><rect x="118" y="301" width="2" height="3"/><rect x="120" y="301" width="3" height="2"/><rect x="25" y="305" width="2" height="2"/><rect x="27" y="304" width="3" height="2"/><rect x="30" y="304" width="2" height="2"/><rect x="33" y="304" width="3" height="2"/><rect x="36" y="304" width="2" height="3"/><rect x="40" y="304" width="2" height="2"/><rect x="43" y="304" width="3" height="2"/><rect x="45" y="305" width="3" height="2"/><rect x="48" y="304" width="3" height="2"/><rect x="51" y="304" width="2" height="3"/><rect x="58" y="305" width="2" height="2"/><rect x="75" y="304" width="2" height="3"/><rect x="78" y="304" width="2" height="3"/><rect x="81" y="304" width="2" height="2"/><rect x="97" y="305" width="3" height="2"/><rect x="102" y="304" width="2" height="2"/><rect x="105" y="304" width="3" height="2"/><rect x="114" y="304" width="3" height="2"/><rect x="117" y="304" width="3" height="2"/><rect x="120" y="304" width="2" height="2"/><rect x="25" y="307" width="3" height="2"/><rect x="35" y="307" width="3" height="2"/><rect x="40" y="307" width="3" height="2"/><rect x="46" y="307" width="2" height="3"/><rect x="49" y="308" width="3" height="2"/><rect x="73" y="307" width="2" height="2"/><rect x="79" y="308" width="3" height="2"/><rect x="82" y="307" width="2" height="2"/><rect x="85" y="307" width="2" height="2"/><rect x="88" y="307" width="2" height="3"/><rect x="91" y="307" width="3" height="2"/><rect x="97" y="308" width="3" height="2"/><rect x="103" y="308" width="2" height="2"/><rect x="112" y="307" width="2" height="2"/><rect x="116" y="308" width="2" height="2"/><rect x="118" y="307" width="3" height="2"/><rect x="121" y="308" width="2" height="2"/><rect x="24" y="310" width="3" height="2"/><rect x="33" y="310" width="3" height="2"/><rect x="40" y="311" width="2" height="3"/><rect x="43" y="310" width="2" height="3"/><rect x="45" y="311" width="3" height="2"/><rect x="49" y="310" width="2" height="2"/><rect x="52" y="310" width="2" height="3"/><rect x="75" y="310" width="2" height="3"/><rect x="87" y="310" width="2" height="3"/><rect x="90" y="311" width="2" height="2"/><rect x="93" y="310" width="2" height="2"/><rect x="99" y="310" width="2" height="3"/><rect x="106" y="310" width="2" height="2"/><rect x="111" y="310" width="2" height="2"/><rect x="114" y="310" width="2" height="2"/><rect x="117" y="310" width="3" height="2"/><rect x="31" y="314" width="3" height="2"/><rect x="34" y="314" width="3" height="2"/><rect x="41" y="313" width="2" height="2"/><rect x="74" y="313" width="2" height="3"/><rect x="77" y="313" width="2" height="2"/><rect x="82" y="313" width="2" height="2"/><rect x="85" y="314" width="2" height="2"/><rect x="89" y="313" width="2" height="2"/><rect x="94" y="313" width="3" height="2"/><rect x="97" y="313" width="2" height="2"/><rect x="103" y="313" width="3" height="2"/><rect x="109" y="314" width="3" height="2"/><rect x="112" y="313" width="3" height="2"/><rect x="115" y="314" width="2" height="3"/><rect x="120" y="314" width="3" height="2"/><rect x="28" y="316" width="2" height="2"/><rect x="30" y="317" width="2" height="2"/><rect x="33" y="316" width="3" height="2"/><rect x="39" y="316" width="2" height="2"/><rect x="43" y="316" width="3" height="2"/><rect x="75" y="316" width="2" height="2"/><rect x="81" y="316" width="3" height="2"/><rect x="84" y="317" width="2" height="3"/><rect x="90" y="316" width="3" height="2"/><rect x="93" y="316" width="2" height="3"/><rect x="100" y="317" width="2" height="3"/><rect x="114" y="316" width="2" height="2"/><rect x="117" y="316" width="2" height="2"/><rect x="120" y="316" width="3" height="2"/><rect x="29" y="319" width="3" height="2"/><rect x="32" y="319" width="2" height="2"/><rect x="37" y="320" width="2" height="2"/><rect x="41" y="319" width="2" height="2"/><rect x="43" y="319" width="2" height="2"/><rect x="70" y="319" width="2" height="2"/><rect x="80" y="319" width="3" height="2"/><rect x="83" y="320" width="2" height="2"/><rect x="91" y="319" width="2" height="2"/><rect x="101" y="320" width="2" height="2"/><rect x="106" y="319" width="3" height="2"/><rect x="112" y="319" width="3" height="2"/><rect x="115" y="319" width="2" height="2"/><rect x="118" y="319" width="2" height="2"/><rect x="120" y="319" width="3" height="2"/><rect x="30" y="323" width="2" height="3"/><rect x="33" y="322" width="2" height="2"/><rect x="36" y="323" width="3" height="2"/><rect x="39" y="322" width="2" height="3"/><rect x="78" y="323" width="2" height="2"/><rect x="81" y="322" width="2" height="3"/><rect x="85" y="322" width="3" height="2"/><rect x="87" y="322" width="2" height="2"/><rect x="91" y="322" width="2" height="2"/><rect x="93" y="323" width="2" height="2"/><rect x="97" y="323" width="2" height="2"/><rect x="99" y="323" width="3" height="2"/><rect x="102" y="322" width="3" height="2"/><rect x="105" y="322" width="3" height="2"/><rect x="108" y="322" width="2" height="3"/><rect x="111" y="322" width="3" height="2"/><rect x="115" y="322" width="3" height="2"/><rect x="26" y="325" width="3" height="2"/><rect x="32" y="326" width="3" height="2"/><rect x="34" y="325" width="2" height="2"/><rect x="37" y="325" width="2" height="2"/><rect x="79" y="326" width="2" height="2"/><rect x="83" y="326" width="3" height="2"/><rect x="86" y="325" width="3" height="2"/><rect x="88" y="325" width="3" height="2"/><rect x="94" y="325" width="2" height="3"/><rect x="100" y="325" width="2" height="3"/><rect x="109" y="325" width="2" height="3"/><rect x="116" y="325" width="2" height="2"/><rect x="118" y="326" width="2" height="2"/><rect x="121" y="325" width="2" height="3"/><rect x="27" y="328" width="2" height="3"/><rect x="30" y="328" width="2" height="2"/><rect x="33" y="329" width="2" height="2"/><rect x="40" y="328" width="2" height="2"/><rect x="75" y="329" width="3" height="2"/><rect x="78" y="328" width="2" height="3"/><rect x="81" y="328" width="2" height="2"/><rect x="88" y="328" width="2" height="2"/><rect x="108" y="328" width="2" height="2"/><rect x="114" y="328" width="3" height="2"/><rect x="118" y="328" width="2" height="2"/><rect x="32" y="331" width="2" height="2"/><rect x="35" y="331" width="3" height="2"/><rect x="38" y="331" width="2" height="2"/><rect x="40" y="331" width="2" height="2"/><rect x="50" y="331" width="2" height="2"/><rect x="68" y="331" width="3" height="2"/><rect x="85" y="331" width="2" height="2"/><rect x="91" y="331" width="3" height="2"/><rect x="97" y="331" width="2" height="3"/><rect x="116" y="332" width="2" height="3"/><rect x="118" y="331" width="3" height="2"/><rect x="120" y="331" width="3" height="2"/><rect x="24" y="334" width="2" height="2"/><rect x="28" y="333" width="2" height="3"/><rect x="39" y="334" width="2" height="2"/><rect x="54" y="334" width="2" height="2"/><rect x="57" y="334" width="3" height="2"/><rect x="75" y="334" width="2" height="2"/><rect x="85" y="334" width="3" height="2"/><rect x="96" y="334" width="2" height="2"/><rect x="100" y="334" width="3" height="2"/><rect x="109" y="333" width="2" height="3"/><rect x="112" y="334" width="2" height="2"/><rect x="114" y="334" width="2" height="2"/><rect x="120" y="334" width="3" height="2"/></g>
<ellipse cx="74.00" cy="274.50" rx="3.60" ry="3.60" fill="#e07030"/>
<ellipse cx="74.00" cy="274.50" rx="2.80" ry="2.80" fill="#ffcc55"/>
<ellipse cx="73.50" cy="274.00" rx="1.60" ry="1.60" fill="#ffffcc"/>
<ellipse cx="59.00" cy="255.50" rx="2.60" ry="2.60" fill="#d09020"/>
<ellipse cx="59.00" cy="255.50" rx="2.00" ry="2.00" fill="#ffee55"/>
<ellipse cx="59.00" cy="255.00" rx="1.00" ry="1.00" fill="#ffffcc"/>
<ellipse cx="69.60" cy="243.30" rx="1.70" ry="1.70" fill="#ffdd66"/>
<ellipse cx="104.20" cy="247.50" rx="2.20" ry="2.20" fill="#e8a040"/>
<ellipse cx="104.20" cy="247.50" rx="1.50" ry="1.50" fill="#fff0a0"/>
<ellipse cx="114.60" cy="244.00" rx="1.60" ry="1.60" fill="#ffcc66"/>
<ellipse cx="117.00" cy="252.50" rx="1.60" ry="1.60" fill="#ffdd66"/>
<ellipse cx="89.60" cy="274.00" rx="2.00" ry="2.00" fill="#e04080"/>
<ellipse cx="89.60" cy="274.00" rx="1.20" ry="1.20" fill="#ffc0d0"/>
<ellipse cx="96.00" cy="271.00" rx="1.30" ry="1.30" fill="#ffcc44"/>
<ellipse cx="106.80" cy="268.30" rx="1.50" ry="1.50" fill="#ffee66"/>
<ellipse cx="44.90" cy="242.00" rx="1.00" ry="1.00" fill="#ffcc66"/>
<ellipse cx="82.00" cy="246.40" rx="1.20" ry="1.20" fill="#ffcc66"/>
<ellipse cx="77.80" cy="282.20" rx="1.00" ry="1.00" fill="#ff8844"/>
<ellipse cx="81.90" cy="311.50" rx="1.20" ry="1.20" fill="#ff6644"/>
<ellipse cx="107.90" cy="311.00" rx="1.00" ry="1.00" fill="#ffcc44"/>
<ellipse cx="44.40" cy="318.60" rx="0.80" ry="0.80" fill="#ffee44"/>
<ellipse cx="37.30" cy="308.00" rx="0.80" ry="0.80" fill="#ffee44"/>
<ellipse cx="34.00" cy="277.50" rx="0.90" ry="0.90" fill="#ff4444"/>
<rect x="362.20" y="235.00" width="98.80" height="99.20" fill="#000"/>
<g fill="#2222dc" shape-rendering="crispEdges"><rect x="363" y="236" width="3" height="2"/><rect x="365" y="235" width="2" height="2"/><rect x="369" y="235" width="2" height="3"/><rect x="377" y="235" width="2" height="2"/><rect x="384" y="236" width="2" height="2"/><rect x="407" y="236" width="2" height="2"/><rect x="410" y="236" width="2" height="3"/><rect x="413" y="236" width="3" height="2"/><rect x="417" y="235" width="2" height="2"/><rect x="420" y="235" width="2" height="2"/><rect x="428" y="235" width="2" height="3"/><rect x="437" y="235" width="2" height="2"/><rect x="441" y="236" width="2" height="3"/><rect x="443" y="236" width="2" height="2"/><rect x="446" y="235" width="3" height="2"/><rect x="449" y="236" width="3" height="2"/><rect x="452" y="235" width="2" height="3"/><rect x="456" y="236" width="2" height="2"/><rect x="366" y="238" width="2" height="2"/><rect x="376" y="238" width="2" height="2"/><rect x="378" y="239" width="3" height="2"/><rect x="381" y="238" width="2" height="2"/><rect x="391" y="239" width="2" height="2"/><rect x="409" y="238" width="3" height="2"/><rect x="412" y="238" width="2" height="2"/><rect x="417" y="238" width="2" height="3"/><rect x="421" y="239" width="3" height="2"/><rect x="423" y="239" width="2" height="3"/><rect x="426" y="239" width="3" height="2"/><rect x="429" y="238" width="3" height="2"/><rect x="432" y="238" width="2" height="2"/><rect x="436" y="238" width="3" height="2"/><rect x="441" y="238" width="3" height="2"/><rect x="448" y="239" width="2" height="2"/><rect x="451" y="239" width="2" height="2"/><rect x="453" y="238" width="2" height="2"/><rect x="457" y="238" width="2" height="2"/><rect x="459" y="239" width="2" height="3"/><rect x="362" y="241" width="3" height="2"/><rect x="374" y="241" width="2" height="2"/><rect x="380" y="241" width="2" height="3"/><rect x="398" y="241" width="2" height="3"/><rect x="407" y="241" width="2" height="2"/><rect x="410" y="241" width="2" height="2"/><rect x="414" y="241" width="2" height="2"/><rect x="416" y="241" width="3" height="2"/><rect x="420" y="242" width="2" height="3"/><rect x="422" y="241" width="2" height="2"/><rect x="431" y="242" width="3" height="2"/><rect x="435" y="242" width="2" height="3"/><rect x="437" y="241" width="3" height="2"/><rect x="446" y="241" width="2" height="2"/><rect x="452" y="241" width="2" height="2"/><rect x="456" y="241" width="3" height="2"/><rect x="458" y="241" width="3" height="2"/><rect x="363" y="245" width="3" height="2"/><rect x="373" y="244" width="3" height="2"/><rect x="375" y="244" width="2" height="2"/><rect x="381" y="244" width="2" height="2"/><rect x="405" y="245" width="2" height="2"/><rect x="411" y="244" width="2" height="2"/><rect x="414" y="244" width="2" height="3"/><rect x="427" y="244" width="2" height="2"/><rect x="432" y="245" width="3" height="2"/><rect x="435" y="245" width="2" height="3"/><rect x="438" y="244" width="2" height="3"/><rect x="444" y="244" width="2" height="2"/><rect x="450" y="245" width="2" height="3"/><rect x="453" y="244" width="3" height="2"/><rect x="459" y="244" width="2" height="2"/><rect x="362" y="247" width="2" height="2"/><rect x="366" y="248" width="3" height="2"/><rect x="408" y="248" width="2" height="2"/><rect x="410" y="247" width="2" height="3"/><rect x="413" y="248" width="2" height="3"/><rect x="416" y="247" width="2" height="2"/><rect x="419" y="247" width="2" height="2"/><rect x="422" y="248" width="2" height="2"/><rect x="431" y="248" width="2" height="2"/><rect x="435" y="247" width="3" height="2"/><rect x="437" y="247" width="2" height="2"/><rect x="441" y="247" width="3" height="2"/><rect x="443" y="248" width="3" height="2"/><rect x="446" y="247" width="2" height="2"/><rect x="450" y="247" width="2" height="3"/><rect x="452" y="247" width="3" height="2"/><rect x="458" y="247" width="3" height="2"/><rect x="364" y="250" width="2" height="3"/><rect x="367" y="250" width="2" height="3"/><rect x="372" y="250" width="2" height="2"/><rect x="375" y="250" width="2" height="2"/><rect x="378" y="250" width="3" height="2"/><rect x="381" y="251" width="3" height="2"/><rect x="402" y="251" width="2" height="2"/><rect x="409" y="251" width="3" height="2"/><rect x="412" y="251" width="3" height="2"/><rect x="414" y="250" width="3" height="2"/><rect x="417" y="251" width="2" height="2"/><rect x="423" y="251" width="2" height="2"/><rect x="429" y="250" width="2" height="2"/><rect x="432" y="250" width="2" height="2"/><rect x="435" y="250" width="2" height="2"/><rect x="438" y="251" width="3" height="2"/><rect x="441" y="250" width="3" height="2"/><rect x="445" y="250" width="2" height="2"/><rect x="450" y="250" width="2" height="2"/><rect x="456" y="251" width="2" height="2"/><rect x="459" y="251" width="2" height="2"/><rect x="363" y="253" width="3" height="2"/><rect x="365" y="253" width="2" height="2"/><rect x="372" y="253" width="3" height="2"/><rect x="374" y="254" width="3" height="2"/><rect x="377" y="253" width="3" height="2"/><rect x="384" y="254" width="2" height="3"/><rect x="405" y="253" width="3" height="2"/><rect x="407" y="254" width="3" height="2"/><rect x="410" y="253" width="2" height="3"/><rect x="414" y="253" width="2" height="2"/><rect x="417" y="253" width="3" height="2"/><rect x="419" y="253" width="2" height="2"/><rect x="423" y="253" width="2" height="2"/><rect x="425" y="253" width="2" height="2"/><rect x="428" y="253" width="2" height="2"/><rect x="435" y="253" width="2" height="2"/><rect x="437" y="254" width="2" height="2"/><rect x="441" y="254" width="3" height="2"/><rect x="446" y="253" width="3" height="2"/><rect x="453" y="254" width="2" height="2"/><rect x="366" y="257" width="2" height="3"/><rect x="369" y="256" width="3" height="2"/><rect x="372" y="256" width="2" height="2"/><rect x="375" y="257" width="3" height="2"/><rect x="379" y="256" width="2" height="2"/><rect x="385" y="256" width="2" height="2"/><rect x="390" y="256" width="2" height="3"/><rect x="402" y="256" width="2" height="3"/><rect x="405" y="256" width="3" height="2"/><rect x="408" y="256" width="3" height="2"/><rect x="411" y="257" width="3" height="2"/><rect x="414" y="256" width="3" height="2"/><rect x="418" y="256" width="3" height="2"/><rect x="421" y="257" width="2" height="2"/><rect x="424" y="257" width="2" height="3"/><rect x="427" y="256" width="2" height="2"/><rect x="429" y="256" width="2" height="2"/><rect x="433" y="257" width="3" height="2"/><rect x="435" y="257" width="2" height="2"/><rect x="439" y="256" width="2" height="3"/><rect x="442" y="256" width="2" height="2"/><rect x="448" y="256" width="3" height="2"/><rect x="451" y="256" width="2" height="2"/><rect x="456" y="257" width="3" height="2"/><rect x="459" y="257" width="2" height="2"/><rect x="363" y="259" width="2" height="2"/><rect x="366" y="260" width="3" height="2"/><rect x="368" y="259" width="3" height="2"/><rect x="371" y="259" width="2" height="2"/><rect x="377" y="259" width="2" height="2"/><rect x="383" y="259" width="2" height="3"/><rect x="390" y="259" width="2" height="3"/><rect x="401" y="259" width="2" height="2"/><rect x="404" y="259" width="2" height="3"/><rect x="407" y="259" width="2" height="2"/><rect x="410" y="259" width="2" height="2"/><rect x="414" y="259" width="2" height="3"/><rect x="422" y="260" width="2" height="2"/><rect x="426" y="259" width="3" height="2"/><rect x="428" y="259" width="2" height="3"/><rect x="431" y="259" width="2" height="2"/><rect x="434" y="259" width="3" height="2"/><rect x="440" y="259" width="2" height="3"/><rect x="443" y="259" width="2" height="2"/><rect x="446" y="259" width="2" height="2"/><rect x="449" y="259" width="2" height="2"/><rect x="453" y="259" width="3" height="2"/><rect x="455" y="259" width="2" height="2"/><rect x="364" y="262" width="3" height="2"/><rect x="366" y="262" width="2" height="3"/><rect x="369" y="262" width="2" height="3"/><rect x="372" y="262" width="3" height="2"/><rect x="375" y="263" width="3" height="2"/><rect x="378" y="263" width="2" height="2"/><rect x="381" y="262" width="2" height="2"/><rect x="385" y="262" width="2" height="3"/><rect x="391" y="262" width="2" height="2"/><rect x="399" y="263" width="2" height="2"/><rect x="403" y="262" width="2" height="2"/><rect x="405" y="263" width="3" height="2"/><rect x="409" y="262" width="2" height="2"/><rect x="412" y="262" width="2" height="2"/><rect x="414" y="263" width="2" height="2"/><rect x="424" y="262" width="3" height="2"/><rect x="426" y="262" width="2" height="3"/><rect x="429" y="262" width="3" height="2"/><rect x="435" y="262" width="3" height="2"/><rect x="438" y="263" width="3" height="2"/><rect x="441" y="262" width="3" height="2"/><rect x="447" y="262" width="3" height="2"/><rect x="453" y="263" width="3" height="2"/><rect x="456" y="262" width="2" height="3"/><rect x="363" y="266" width="2" height="2"/><rect x="366" y="266" width="2" height="3"/><rect x="368" y="265" width="2" height="3"/><rect x="375" y="265" width="2" height="2"/><rect x="377" y="265" width="2" height="2"/><rect x="380" y="266" width="2" height="2"/><rect x="386" y="266" width="2" height="3"/><rect x="389" y="265" width="2" height="2"/><rect x="392" y="265" width="2" height="3"/><rect x="398" y="265" width="3" height="2"/><rect x="401" y="265" width="2" height="2"/><rect x="405" y="265" width="2" height="3"/><rect x="408" y="265" width="2" height="2"/><rect x="410" y="266" width="2" height="2"/><rect x="416" y="266" width="2" height="2"/><rect x="420" y="265" width="3" height="2"/><rect x="423" y="266" width="2" height="2"/><rect x="425" y="265" width="2" height="2"/><rect x="428" y="266" width="3" height="2"/><rect x="431" y="265" width="2" height="3"/><rect x="434" y="266" width="2" height="2"/><rect x="437" y="265" width="3" height="2"/><rect x="441" y="266" width="2" height="2"/><rect x="449" y="265" width="2" height="2"/><rect x="452" y="266" width="3" height="2"/><rect x="455" y="265" width="2" height="2"/><rect x="459" y="266" width="2" height="2"/><rect x="369" y="269" width="2" height="2"/><rect x="372" y="268" width="3" height="2"/><rect x="376" y="268" width="2" height="3"/><rect x="379" y="268" width="2" height="3"/><rect x="381" y="269" width="2" height="2"/><rect x="385" y="268" width="3" height="2"/><rect x="388" y="268" width="3" height="2"/><rect x="390" y="268" width="2" height="2"/><rect x="393" y="269" width="2" height="3"/><rect x="397" y="268" width="2" height="3"/><rect x="400" y="269" width="3" height="2"/><rect x="402" y="268" width="3" height="2"/><rect x="405" y="269" width="2" height="2"/><rect x="409" y="268" width="3" height="2"/><rect x="411" y="269" width="2" height="3"/><rect x="415" y="268" width="2" height="2"/><rect x="417" y="269" width="2" height="3"/><rect x="424" y="268" width="3" height="2"/><rect x="427" y="268" width="2" height="3"/><rect x="430" y="269" width="2" height="3"/><rect x="433" y="268" width="3" height="2"/><rect x="439" y="269" width="3" height="2"/><rect x="442" y="268" width="2" height="3"/><rect x="445" y="268" width="2" height="3"/><rect x="447" y="269" width="2" height="2"/><rect x="457" y="268" width="2" height="2"/><rect x="458" y="268" width="3" height="2"/><rect x="363" y="272" width="2" height="2"/><rect x="366" y="272" width="2" height="3"/><rect x="368" y="271" width="2" height="2"/><rect x="371" y="272" width="3" height="2"/><rect x="375" y="272" width="2" height="2"/><rect x="378" y="272" width="2" height="2"/><rect x="381" y="272" width="3" height="2"/><rect x="383" y="272" width="3" height="2"/><rect x="387" y="271" width="3" height="2"/><rect x="392" y="271" width="3" height="2"/><rect x="395" y="271" width="2" height="3"/><rect x="399" y="272" width="2" height="2"/><rect x="402" y="271" width="3" height="2"/><rect x="404" y="272" width="2" height="3"/><rect x="408" y="272" width="3" height="2"/><rect x="410" y="272" width="2" height="2"/><rect x="414" y="272" width="2" height="2"/><rect x="420" y="271" width="2" height="2"/><rect x="422" y="271" width="2" height="3"/><rect x="425" y="271" width="3" height="2"/><rect x="428" y="272" width="2" height="3"/><rect x="431" y="272" width="2" height="3"/><rect x="441" y="272" width="2" height="3"/><rect x="444" y="271" width="3" height="2"/><rect x="446" y="272" width="2" height="2"/><rect x="449" y="271" width="2" height="3"/><rect x="453" y="271" width="2" height="3"/><rect x="455" y="271" width="2" height="2"/><rect x="458" y="272" width="3" height="2"/><rect x="363" y="274" width="2" height="3"/><rect x="366" y="275" width="3" height="2"/><rect x="370" y="274" width="2" height="3"/><rect x="372" y="274" width="3" height="2"/><rect x="376" y="274" width="2" height="3"/><rect x="378" y="275" width="2" height="3"/><rect x="381" y="275" width="2" height="3"/><rect x="385" y="275" width="2" height="2"/><rect x="390" y="275" width="3" height="2"/><rect x="393" y="274" width="3" height="2"/><rect x="396" y="275" width="3" height="2"/><rect x="400" y="275" width="2" height="2"/><rect x="402" y="274" width="3" height="2"/><rect x="405" y="274" width="3" height="2"/><rect x="408" y="275" width="2" height="3"/><rect x="411" y="274" width="2" height="3"/><rect x="414" y="274" width="2" height="2"/><rect x="417" y="274" width="2" height="3"/><rect x="420" y="275" width="3" height="2"/><rect x="423" y="274" width="2" height="2"/><rect x="426" y="275" width="2" height="2"/><rect x="429" y="274" width="2" height="2"/><rect x="432" y="274" width="2" height="2"/><rect x="436" y="274" width="2" height="3"/><rect x="438" y="275" width="3" height="2"/><rect x="444" y="274" width="3" height="2"/><rect x="447" y="275" width="2" height="2"/><rect x="451" y="274" width="2" height="2"/><rect x="453" y="274" width="3" height="2"/><rect x="456" y="274" width="2" height="3"/><rect x="459" y="274" width="2" height="2"/><rect x="365" y="278" width="3" height="2"/><rect x="368" y="277" width="2" height="2"/><rect x="371" y="277" width="3" height="2"/><rect x="374" y="277" width="2" height="2"/><rect x="377" y="278" width="3" height="2"/><rect x="381" y="278" width="3" height="2"/><rect x="387" y="277" width="2" height="2"/><rect x="390" y="277" width="2" height="3"/><rect x="392" y="277" width="3" height="2"/><rect x="395" y="277" width="2" height="3"/><rect x="398" y="277" width="2" height="3"/><rect x="402" y="278" width="3" height="2"/><rect x="404" y="277" width="2" height="2"/><rect x="407" y="278" width="3" height="2"/><rect x="416" y="277" width="2" height="3"/><rect x="419" y="277" width="2" height="2"/><rect x="422" y="277" width="3" height="2"/><rect x="425" y="277" width="2" height="2"/><rect x="428" y="277" width="2" height="2"/><rect x="432" y="277" width="3" height="2"/><rect x="434" y="277" width="2" height="2"/><rect x="440" y="277" width="3" height="2"/><rect x="447" y="277" width="2" height="2"/><rect x="449" y="277" width="2" height="2"/><rect x="452" y="278" width="3" height="2"/><rect x="369" y="281" width="3" height="2"/><rect x="373" y="280" width="3" height="2"/><rect x="375" y="280" width="2" height="2"/><rect x="378" y="280" width="2" height="3"/><rect x="381" y="280" width="3" height="2"/><rect x="384" y="280" width="2" height="3"/><rect x="387" y="280" width="2" height="3"/><rect x="390" y="281" width="2" height="3"/><rect x="393" y="280" width="2" height="2"/><rect x="397" y="280" width="2" height="3"/><rect x="400" y="280" width="2" height="2"/><rect x="403" y="280" width="3" height="2"/><rect x="406" y="281" width="3" height="2"/><rect x="409" y="281" width="2" height="2"/><rect x="412" y="280" width="2" height="3"/><rect x="417" y="280" width="2" height="2"/><rect x="421" y="280" width="2" height="2"/><rect x="426" y="280" width="2" height="3"/><rect x="430" y="280" width="2" height="2"/><rect x="432" y="280" width="2" height="2"/><rect x="436" y="281" width="2" height="2"/><rect x="438" y="281" width="3" height="2"/><rect x="445" y="280" width="2" height="3"/><rect x="447" y="281" width="3" height="2"/><rect x="450" y="280" width="3" height="2"/><rect x="453" y="280" width="3" height="2"/><rect x="363" y="284" width="3" height="2"/><rect x="365" y="283" width="2" height="2"/><rect x="368" y="283" width="2" height="3"/><rect x="372" y="284" width="2" height="2"/><rect x="374" y="283" width="2" height="2"/><rect x="378" y="284" width="2" height="3"/><rect x="381" y="283" width="3" height="2"/><rect x="383" y="283" width="3" height="2"/><rect x="392" y="284" width="2" height="2"/><rect x="395" y="284" width="2" height="2"/><rect x="398" y="284" width="2" height="2"/><rect x="401" y="283" width="2" height="3"/><rect x="404" y="283" width="2" height="3"/><rect x="410" y="283" width="3" height="2"/><rect x="413" y="283" width="2" height="2"/><rect x="419" y="283" width="2" height="2"/><rect x="422" y="284" width="2" height="2"/><rect x="426" y="283" width="2" height="2"/><rect x="428" y="284" width="2" height="2"/><rect x="432" y="284" width="3" height="2"/><rect x="434" y="284" width="2" height="2"/><rect x="440" y="284" width="3" height="2"/><rect x="444" y="283" width="2" height="2"/><rect x="446" y="283" width="3" height="2"/><rect x="452" y="283" width="3" height="2"/><rect x="455" y="283" width="2" height="3"/><rect x="363" y="286" width="2" height="2"/><rect x="366" y="287" width="2" height="2"/><rect x="372" y="286" width="2" height="3"/><rect x="376" y="286" width="2" height="2"/><rect x="378" y="286" width="2" height="3"/><rect x="382" y="286" width="2" height="2"/><rect x="384" y="286" width="3" height="2"/><rect x="387" y="286" width="3" height="2"/><rect x="390" y="286" width="3" height="2"/><rect x="393" y="287" width="2" height="2"/><rect x="403" y="286" width="3" height="2"/><rect x="408" y="287" width="2" height="2"/><rect x="412" y="286" width="3" height="2"/><rect x="415" y="287" width="3" height="2"/><rect x="420" y="287" width="3" height="2"/><rect x="423" y="286" width="2" height="2"/><rect x="427" y="287" width="2" height="2"/><rect x="430" y="286" width="3" height="2"/><rect x="432" y="286" width="2" height="2"/><rect x="438" y="287" width="3" height="2"/><rect x="372" y="289" width="3" height="2"/><rect x="377" y="290" width="2" height="2"/><rect x="380" y="289" width="3" height="2"/><rect x="386" y="290" width="3" height="2"/><rect x="390" y="290" width="2" height="2"/><rect x="393" y="289" width="2" height="2"/><rect x="395" y="290" width="3" height="2"/><rect x="398" y="290" width="2" height="2"/><rect x="401" y="289" width="2" height="2"/><rect x="405" y="290" width="2" height="2"/><rect x="407" y="289" width="2" height="3"/><rect x="410" y="289" width="2" height="2"/><rect x="413" y="289" width="2" height="2"/><rect x="416" y="290" width="2" height="2"/><rect x="419" y="290" width="2" height="2"/><rect x="422" y="289" width="2" height="2"/><rect x="428" y="289" width="2" height="3"/><rect x="431" y="289" width="3" height="2"/><rect x="434" y="289" width="2" height="2"/><rect x="438" y="289" width="2" height="2"/><rect x="443" y="289" width="2" height="3"/><rect x="373" y="292" width="3" height="2"/><rect x="376" y="292" width="2" height="2"/><rect x="378" y="293" width="2" height="3"/><rect x="382" y="293" width="3" height="2"/><rect x="387" y="292" width="2" height="3"/><rect x="390" y="293" width="2" height="2"/><rect x="393" y="292" width="2" height="3"/><rect x="396" y="292" width="2" height="2"/><rect x="402" y="292" width="2" height="2"/><rect x="408" y="293" width="2" height="2"/><rect x="411" y="292" width="2" height="3"/><rect x="414" y="292" width="2" height="2"/><rect x="418" y="293" width="3" height="2"/><rect x="424" y="292" width="2" height="3"/><rect x="432" y="293" width="2" height="3"/><rect x="436" y="293" width="2" height="2"/><rect x="439" y="292" width="3" height="2"/><rect x="444" y="292" width="2" height="2"/><rect x="451" y="292" width="2" height="3"/><rect x="368" y="296" width="3" height="2"/><rect x="375" y="295" width="2" height="2"/><rect x="377" y="296" width="2" height="2"/><rect x="380" y="296" width="2" height="2"/><rect x="383" y="295" width="3" height="2"/><rect x="387" y="295" width="2" height="3"/><rect x="390" y="295" width="2" height="3"/><rect x="393" y="296" width="2" height="2"/><rect x="395" y="295" width="2" height="2"/><rect x="398" y="295" width="2" height="2"/><rect x="401" y="295" width="3" height="2"/><rect x="404" y="295" width="2" height="2"/><rect x="410" y="295" width="2" height="2"/><rect x="419" y="295" width="2" height="3"/><rect x="422" y="295" width="3" height="2"/><rect x="426" y="295" width="3" height="2"/><rect x="431" y="295" width="2" height="2"/><rect x="434" y="296" width="2" height="2"/><rect x="438" y="295" width="3" height="2"/><rect x="443" y="295" width="2" height="2"/><rect x="446" y="296" width="2" height="2"/><rect x="449" y="296" width="2" height="2"/><rect x="455" y="296" width="3" height="2"/><rect x="369" y="299" width="3" height="2"/><rect x="372" y="299" width="2" height="2"/><rect x="375" y="298" width="3" height="2"/><rect x="378" y="299" width="2" height="3"/><rect x="382" y="298" width="2" height="3"/><rect x="384" y="299" width="2" height="2"/><rect x="394" y="298" width="3" height="2"/><rect x="396" y="298" width="2" height="2"/><rect x="414" y="299" width="2" height="3"/><rect x="417" y="299" width="2" height="2"/><rect x="421" y="298" width="2" height="2"/><rect x="423" y="298" width="2" height="2"/><rect x="426" y="298" width="2" height="3"/><rect x="429" y="299" width="2" height="2"/><rect x="433" y="298" width="3" height="2"/><rect x="435" y="298" width="2" height="2"/><rect x="438" y="299" width="2" height="3"/><rect x="441" y="298" width="3" height="2"/><rect x="445" y="298" width="2" height="2"/><rect x="447" y="298" width="2" height="2"/><rect x="451" y="298" width="2" height="3"/><rect x="387" y="301" width="3" height="2"/><rect x="389" y="301" width="2" height="2"/><rect x="393" y="301" width="3" height="2"/><rect x="399" y="301" width="3" height="2"/><rect x="404" y="301" width="3" height="2"/><rect x="408" y="301" width="2" height="2"/><rect x="411" y="301" width="3" height="2"/><rect x="413" y="301" width="2" height="2"/><rect x="416" y="302" width="2" height="3"/><rect x="419" y="301" width="2" height="2"/><rect x="422" y="301" width="2" height="3"/><rect x="426" y="301" width="2" height="3"/><rect x="428" y="301" width="3" height="2"/><rect x="434" y="301" width="3" height="2"/><rect x="437" y="302" width="2" height="3"/><rect x="443" y="301" width="2" height="3"/><rect x="446" y="302" width="2" height="2"/><rect x="450" y="302" width="3" height="2"/><rect x="455" y="301" width="3" height="2"/><rect x="458" y="302" width="3" height="2"/><rect x="375" y="304" width="2" height="2"/><rect x="378" y="304" width="2" height="2"/><rect x="381" y="305" width="3" height="2"/><rect x="384" y="305" width="2" height="2"/><rect x="390" y="304" width="2" height="3"/><rect x="393" y="304" width="2" height="3"/><rect x="397" y="304" width="3" height="2"/><rect x="402" y="304" width="2" height="2"/><rect x="408" y="305" width="3" height="2"/><rect x="411" y="304" width="2" height="3"/><rect x="414" y="304" width="3" height="2"/><rect x="420" y="304" width="2" height="2"/><rect x="423" y="304" width="2" height="3"/><rect x="426" y="304" width="2" height="2"/><rect x="430" y="304" width="2" height="2"/><rect x="432" y="304" width="3" height="2"/><rect x="435" y="304" width="3" height="2"/><rect x="438" y="304" width="3" height="2"/><rect x="444" y="304" width="3" height="2"/><rect x="447" y="304" width="3" height="2"/><rect x="450" y="304" width="3" height="2"/><rect x="454" y="304" width="2" height="2"/><rect x="457" y="304" width="2" height="2"/><rect x="458" y="304" width="3" height="2"/><rect x="374" y="307" width="2" height="2"/><rect x="378" y="307" width="2" height="3"/><rect x="380" y="307" width="2" height="2"/><rect x="399" y="307" width="2" height="3"/><rect x="401" y="307" width="3" height="2"/><rect x="404" y="307" width="2" height="3"/><rect x="410" y="307" width="2" height="2"/><rect x="413" y="307" width="2" height="2"/><rect x="417" y="307" width="2" height="3"/><rect x="429" y="307" width="3" height="2"/><rect x="431" y="308" width="2" height="3"/><rect x="438" y="307" width="2" height="2"/><rect x="441" y="308" width="2" height="2"/><rect x="449" y="308" width="3" height="2"/><rect x="452" y="307" width="3" height="2"/><rect x="456" y="307" width="2" height="2"/><rect x="458" y="308" width="2" height="2"/><rect x="369" y="310" width="2" height="2"/><rect x="375" y="310" width="2" height="2"/><rect x="379" y="310" width="2" height="2"/><rect x="385" y="310" width="3" height="2"/><rect x="387" y="311" width="2" height="2"/><rect x="390" y="311" width="2" height="2"/><rect x="403" y="310" width="3" height="2"/><rect x="405" y="310" width="3" height="2"/><rect x="408" y="310" width="2" height="2"/><rect x="412" y="310" width="2" height="2"/><rect x="418" y="310" width="3" height="2"/><rect x="435" y="310" width="2" height="2"/><rect x="438" y="310" width="2" height="3"/><rect x="441" y="310" width="2" height="2"/><rect x="445" y="310" width="2" height="2"/><rect x="447" y="311" width="3" height="2"/><rect x="450" y="310" width="2" height="3"/><rect x="453" y="311" width="2" height="3"/><rect x="456" y="310" width="3" height="2"/><rect x="459" y="310" width="2" height="2"/><rect x="374" y="314" width="2" height="3"/><rect x="384" y="314" width="2" height="3"/><rect x="386" y="313" width="3" height="2"/><rect x="389" y="313" width="3" height="2"/><rect x="395" y="313" width="2" height="2"/><rect x="398" y="314" width="2" height="2"/><rect x="410" y="313" width="2" height="2"/><rect x="413" y="313" width="3" height="2"/><rect x="422" y="313" width="2" height="2"/><rect x="429" y="314" width="3" height="2"/><rect x="432" y="314" width="2" height="2"/><rect x="435" y="314" width="2" height="2"/><rect x="437" y="314" width="3" height="2"/><rect x="446" y="313" width="2" height="2"/><rect x="455" y="313" width="2" height="3"/><rect x="376" y="316" width="3" height="2"/><rect x="381" y="317" width="2" height="3"/><rect x="384" y="316" width="3" height="2"/><rect x="388" y="317" width="3" height="2"/><rect x="393" y="317" width="2" height="2"/><rect x="397" y="316" width="2" height="2"/><rect x="405" y="316" width="2" height="2"/><rect x="409" y="316" width="3" height="2"/><rect x="412" y="316" width="3" height="2"/><rect x="436" y="316" width="3" height="2"/><rect x="439" y="316" width="3" height="2"/><rect x="442" y="316" width="3" height="2"/><rect x="457" y="317" width="3" height="2"/><rect x="459" y="316" width="2" height="3"/><rect x="365" y="320" width="2" height="2"/><rect x="371" y="319" width="3" height="2"/><rect x="374" y="319" width="2" height="3"/><rect x="378" y="319" width="2" height="2"/><rect x="380" y="320" width="2" height="3"/><rect x="383" y="319" width="3" height="2"/><rect x="390" y="319" width="2" height="2"/><rect x="392" y="320" width="2" height="2"/><rect x="405" y="319" width="2" height="2"/><rect x="407" y="319" width="2" height="3"/><rect x="411" y="319" width="3" height="2"/><rect x="429" y="319" width="2" height="2"/><rect x="449" y="319" width="2" height="2"/><rect x="452" y="320" width="2" height="2"/><rect x="369" y="322" width="2" height="2"/><rect x="372" y="322" width="3" height="2"/><rect x="378" y="323" width="2" height="2"/><rect x="387" y="322" width="2" height="2"/><rect x="393" y="322" width="2" height="3"/><rect x="396" y="323" width="2" height="2"/><rect x="399" y="322" width="2" height="3"/><rect x="402" y="322" width="2" height="3"/><rect x="405" y="322" width="2" height="2"/><rect x="411" y="322" width="3" height="2"/><rect x="429" y="322" width="2" height="2"/><rect x="442" y="322" width="2" height="2"/><rect x="456" y="322" width="2" height="2"/><rect x="459" y="323" width="2" height="3"/><rect x="363" y="326" width="2" height="2"/><rect x="368" y="325" width="2" height="2"/><rect x="380" y="325" width="3" height="2"/><rect x="383" y="325" width="2" height="2"/><rect x="389" y="326" width="2" height="2"/><rect x="393" y="325" width="2" height="2"/><rect x="395" y="325" width="3" height="2"/><rect x="407" y="325" width="3" height="2"/><rect x="422" y="325" width="2" height="3"/><rect x="429" y="326" width="2" height="2"/><rect x="431" y="326" width="3" height="2"/><rect x="437" y="325" width="2" height="2"/><rect x="443" y="325" width="3" height="2"/><rect x="456" y="326" width="2" height="2"/><rect x="366" y="328" width="3" height="2"/><rect x="370" y="329" width="2" height="2"/><rect x="373" y="328" width="2" height="2"/><rect x="375" y="328" width="2" height="3"/><rect x="382" y="328" width="3" height="2"/><rect x="385" y="328" width="3" height="2"/><rect x="387" y="329" width="2" height="3"/><rect x="390" y="329" width="3" height="2"/><rect x="397" y="329" width="2" height="3"/><rect x="400" y="328" width="2" height="3"/><rect x="402" y="328" width="3" height="2"/><rect x="405" y="328" width="3" height="2"/><rect x="412" y="328" width="3" height="2"/><rect x="414" y="329" width="2" height="2"/><rect x="420" y="328" width="2" height="2"/><rect x="426" y="329" width="2" height="2"/><rect x="436" y="328" width="2" height="2"/><rect x="441" y="328" width="2" height="2"/><rect x="447" y="328" width="3" height="2"/><rect x="450" y="328" width="3" height="2"/><rect x="453" y="329" width="2" height="2"/><rect x="459" y="328" width="2" height="2"/><rect x="362" y="331" width="3" height="2"/><rect x="372" y="331" width="3" height="2"/><rect x="374" y="332" width="3" height="2"/><rect x="387" y="331" width="2" height="2"/><rect x="389" y="331" width="2" height="3"/><rect x="393" y="331" width="2" height="2"/><rect x="395" y="332" width="2" height="2"/><rect x="399" y="331" width="2" height="2"/><rect x="401" y="332" width="2" height="2"/><rect x="407" y="331" width="2" height="2"/><rect x="410" y="332" width="3" height="2"/><rect x="413" y="331" width="2" height="2"/><rect x="422" y="331" width="2" height="2"/><rect x="428" y="331" width="3" height="2"/><rect x="435" y="331" width="3" height="2"/><rect x="443" y="331" width="2" height="2"/><rect x="458" y="331" width="2" height="3"/></g>
<ellipse cx="384.00" cy="303.00" rx="2.20" ry="2.20" fill="#cc3322"/>
<ellipse cx="386.50" cy="307.50" rx="1.80" ry="1.80" fill="#cc3322"/>
<ellipse cx="380.00" cy="300.00" rx="1.40" ry="1.40" fill="#cc2222"/>
<ellipse cx="406.00" cy="242.00" rx="1.30" ry="1.30" fill="#dd3030"/>
<ellipse cx="408.00" cy="246.00" rx="1.10" ry="1.10" fill="#dd3030"/>
<ellipse cx="376.00" cy="326.00" rx="1.80" ry="1.80" fill="#cc3322"/>
<ellipse cx="374.00" cy="331.00" rx="1.20" ry="1.20" fill="#ee6622"/>
<ellipse cx="382.00" cy="305.50" rx="2.40" ry="2.40" fill="#ee5522"/>
<ellipse cx="382.50" cy="304.90" rx="1.60" ry="1.60" fill="#ffaa33"/>
<ellipse cx="383.50" cy="303.50" rx="0.90" ry="0.90" fill="#ffee66"/>
<ellipse cx="379.00" cy="328.50" rx="2.00" ry="2.00" fill="#ee5522"/>
<ellipse cx="379.50" cy="328.00" rx="1.20" ry="1.20" fill="#ffaa33"/>
<ellipse cx="376.00" cy="320.00" rx="1.20" ry="1.20" fill="#dd3333"/>
<ellipse cx="372.00" cy="295.00" rx="1.00" ry="1.00" fill="#dd3333"/>
<ellipse cx="374.30" cy="291.20" rx="1.00" ry="1.00" fill="#ff3333"/>
<ellipse cx="444.20" cy="255.50" rx="1.10" ry="1.10" fill="#ffeecc"/>
<ellipse cx="456.50" cy="252.80" rx="0.90" ry="0.90" fill="#ffcc88"/>
<ellipse cx="420.90" cy="261.00" rx="0.90" ry="0.90" fill="#ff3030"/>
<ellipse cx="425.00" cy="248.70" rx="0.80" ry="0.80" fill="#ff3030"/>
<ellipse cx="410.00" cy="241.80" rx="0.80" ry="0.80" fill="#ff4040"/>
<ellipse cx="390.80" cy="291.20" rx="0.80" ry="0.80" fill="#ff4040"/>
<ellipse cx="367.50" cy="278.80" rx="0.80" ry="0.80" fill="#ff3030"/>
<ellipse cx="374.30" cy="262.40" rx="0.70" ry="0.70" fill="#ff3030"/>
<ellipse cx="415.40" cy="324.00" rx="0.80" ry="0.80" fill="#ff3030"/>
<ellipse cx="397.60" cy="326.80" rx="0.70" ry="0.70" fill="#ff5050"/>
<ellipse cx="389.40" cy="239.10" rx="0.80" ry="0.80" fill="#30ff30"/>
<ellipse cx="410.00" cy="239.00" rx="0.70" ry="0.70" fill="#30ff30"/>
<ellipse cx="401.70" cy="251.40" rx="0.70" ry="0.70" fill="#30ff30"/>
<ellipse cx="363.40" cy="317.20" rx="0.60" ry="0.60" fill="#30ff30"/>
<ellipse cx="437.00" cy="248.00" rx="0.70" ry="0.70" fill="#30ff30"/>
<ellipse cx="425.00" cy="265.00" rx="0.60" ry="0.60" fill="#30ff30"/>
<text x="425.00" y="318.70" font-size="11.2" fill="#fff" stroke="#fff" stroke-width="0.22">50 μm</text>
<rect x="436.10" y="324.60" width="18.40" height="3.30" fill="#fff"/>
</svg></body></html>
